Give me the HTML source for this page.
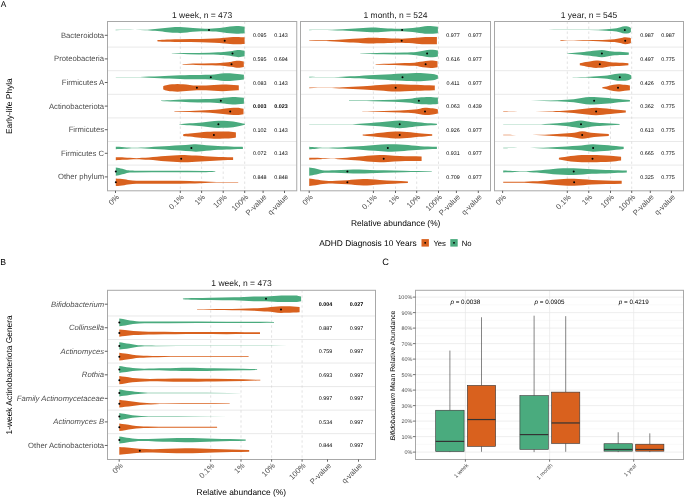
<!DOCTYPE html>
<html><head><meta charset="utf-8"><style>
html,body{margin:0;padding:0;background:#fff;}
body{width:685px;height:497px;overflow:hidden;}
svg{display:block;will-change:transform;text-rendering:geometricPrecision;font-family:"Liberation Sans", sans-serif;}
</style></head><body>
<svg width="685" height="497" viewBox="0 0 685 497">
<rect width="685" height="497" fill="#fff"/>
<text x="0.8" y="7.4" font-size="8.3" fill="#000">A</text>
<text x="202.12" y="18" font-size="8.5" text-anchor="middle" fill="#1a1a1a" >1 week, n = 473</text>
<line x1="107.5" y1="47.1" x2="296.75" y2="47.1" stroke="#e6e6e6" stroke-width="0.9" />
<line x1="107.5" y1="70.7" x2="296.75" y2="70.7" stroke="#e6e6e6" stroke-width="0.9" />
<line x1="107.5" y1="94.3" x2="296.75" y2="94.3" stroke="#e6e6e6" stroke-width="0.9" />
<line x1="107.5" y1="117.9" x2="296.75" y2="117.9" stroke="#e6e6e6" stroke-width="0.9" />
<line x1="107.5" y1="141.5" x2="296.75" y2="141.5" stroke="#e6e6e6" stroke-width="0.9" />
<line x1="107.5" y1="165.1" x2="296.75" y2="165.1" stroke="#e6e6e6" stroke-width="0.9" />
<line x1="180.3" y1="21.5" x2="180.3" y2="190.8" stroke="#cfcfcf" stroke-width="0.6" stroke-dasharray="2.4 2.6"/>
<line x1="201.6" y1="21.5" x2="201.6" y2="190.8" stroke="#cfcfcf" stroke-width="0.6" stroke-dasharray="2.4 2.6"/>
<line x1="223.2" y1="21.5" x2="223.2" y2="190.8" stroke="#cfcfcf" stroke-width="0.6" stroke-dasharray="2.4 2.6"/>
<line x1="244.7" y1="21.5" x2="244.7" y2="190.8" stroke="#cfcfcf" stroke-width="0.6" stroke-dasharray="2.4 2.6"/>
<path d="M115.6 29.73 C118.73 29.76 121.87 29.79 125 29.82 C128.33 29.85 131.67 29.9 135 29.9 C138.33 29.9 141.67 29.84 145 29.75 C146.67 29.71 148.33 29.56 150 29.45 C151.67 29.34 153.33 29.2 155 29.05 C156.67 28.9 158.33 28.73 160 28.55 C161.67 28.37 163.33 28.13 165 27.95 C166.67 27.77 168.33 27.59 170 27.45 C171.67 27.31 173.33 27.17 175 27.1 C176.67 27.03 178.33 26.95 180 26.95 C182.33 26.95 184.67 27.25 187 27.45 C189 27.62 191 27.95 193 28.1 C195.67 28.3 198.33 28.46 201 28.55 C203.67 28.64 206.33 28.75 209 28.75 C211.33 28.75 213.67 28.53 216 28.35 C218.5 28.16 221 27.77 223.5 27.45 C225.67 27.17 227.83 26.75 230 26.55 C232.13 26.35 234.27 26.1 236.4 26.1 C237.93 26.1 239.47 26.24 241 26.35 C242.2 26.44 243.4 26.62 244.6 26.75 L244.6 33.15 C243.4 33.28 242.2 33.46 241 33.55 C239.47 33.66 237.93 33.8 236.4 33.8 C234.27 33.8 232.13 33.55 230 33.35 C227.83 33.15 225.67 32.73 223.5 32.45 C221 32.13 218.5 31.74 216 31.55 C213.67 31.37 211.33 31.15 209 31.15 C206.33 31.15 203.67 31.26 201 31.35 C198.33 31.44 195.67 31.6 193 31.8 C191 31.95 189 32.28 187 32.45 C184.67 32.65 182.33 32.95 180 32.95 C178.33 32.95 176.67 32.87 175 32.8 C173.33 32.73 171.67 32.59 170 32.45 C168.33 32.31 166.67 32.13 165 31.95 C163.33 31.77 161.67 31.53 160 31.35 C158.33 31.17 156.67 31 155 30.85 C153.33 30.7 151.67 30.56 150 30.45 C148.33 30.34 146.67 30.19 145 30.15 C141.67 30.06 138.33 30 135 30 C131.67 30 128.33 30.05 125 30.08 C121.87 30.11 118.73 30.14 115.6 30.17 Z" fill="#4aab7e"/>
<path d="M157.3 40.15 C158.2 40.07 159.1 39.97 160 39.9 C161.33 39.8 162.67 39.71 164 39.65 C166 39.56 168 39.51 170 39.45 C173.33 39.35 176.67 39.24 180 39.2 C187 39.12 194 39.14 201 39.05 C205.33 38.99 209.67 38.77 214 38.55 C217.53 38.37 221.07 38.03 224.6 37.75 C226.4 37.61 228.2 37.4 230 37.3 C232.13 37.19 234.27 37.05 236.4 37.05 C237.93 37.05 239.47 37.1 241 37.15 C242.2 37.19 243.4 37.28 244.6 37.35 L244.6 43.95 C243.4 44.02 242.2 44.11 241 44.15 C239.47 44.2 237.93 44.25 236.4 44.25 C234.27 44.25 232.13 44.11 230 44 C228.2 43.9 226.4 43.69 224.6 43.55 C221.07 43.27 217.53 42.93 214 42.75 C209.67 42.53 205.33 42.31 201 42.25 C194 42.16 187 42.18 180 42.1 C176.67 42.06 173.33 41.95 170 41.85 C168 41.79 166 41.74 164 41.65 C162.67 41.59 161.33 41.5 160 41.4 C159.1 41.33 158.2 41.23 157.3 41.15 Z" fill="#d9611e"/>
<path d="M171.8 53.4 C174.53 53.32 177.27 53.23 180 53.15 C182.67 53.08 185.33 53 188 52.95 C195 52.82 202 52.8 209 52.65 C212 52.59 215 52.48 218 52.35 C219.83 52.27 221.67 52.19 223.5 52.05 C225 51.94 226.5 51.74 228 51.55 C229.43 51.37 230.87 51.18 232.3 50.95 C233.53 50.75 234.77 50.43 236 50.25 C236.83 50.13 237.67 49.95 238.5 49.95 C239.5 49.95 240.5 50.12 241.5 50.25 C242.53 50.39 243.57 50.65 244.6 50.85 L244.6 56.25 C243.57 56.45 242.53 56.71 241.5 56.85 C240.5 56.98 239.5 57.15 238.5 57.15 C237.67 57.15 236.83 56.97 236 56.85 C234.77 56.67 233.53 56.35 232.3 56.15 C230.87 55.92 229.43 55.73 228 55.55 C226.5 55.36 225 55.16 223.5 55.05 C221.67 54.91 219.83 54.83 218 54.75 C215 54.62 212 54.51 209 54.45 C202 54.3 195 54.28 188 54.15 C185.33 54.1 182.67 54.02 180 53.95 C177.27 53.87 174.53 53.78 171.8 53.7 Z" fill="#4aab7e"/>
<path d="M182.6 64.1 C185.07 63.98 187.53 63.85 190 63.75 C192 63.67 194 63.6 196 63.55 C201.33 63.42 206.67 63.39 212 63.25 C214.67 63.18 217.33 63.08 220 62.95 C221.67 62.87 223.33 62.76 225 62.6 C227.17 62.4 229.33 62.02 231.5 61.65 C232.67 61.45 233.83 61.1 235 60.95 C236 60.82 237 60.65 238 60.65 C239 60.65 240 60.82 241 60.95 C241.93 61.07 242.87 61.28 243.8 61.45 L243.8 67.05 C242.87 67.22 241.93 67.43 241 67.55 C240 67.68 239 67.85 238 67.85 C237 67.85 236 67.68 235 67.55 C233.83 67.4 232.67 67.05 231.5 66.85 C229.33 66.48 227.17 66.1 225 65.9 C223.33 65.74 221.67 65.63 220 65.55 C217.33 65.42 214.67 65.32 212 65.25 C206.67 65.11 201.33 65.08 196 64.95 C194 64.9 192 64.83 190 64.75 C187.53 64.65 185.07 64.52 182.6 64.4 Z" fill="#d9611e"/>
<path d="M115.8 76.93 C118.87 76.96 121.93 76.98 125 77.01 C127.33 77.03 129.67 77.09 132 77.09 C134.67 77.09 137.33 77.07 140 77.05 C143 77.02 146 76.68 149 76.55 C152.67 76.39 156.33 76.29 160 76.15 C163.1 76.03 166.2 75.87 169.3 75.75 C172.87 75.61 176.43 75.49 180 75.35 C183.23 75.22 186.47 74.95 189.7 74.95 C193.13 74.95 196.57 74.95 200 74.95 C203.6 74.95 207.2 74.92 210.8 74.85 C213.2 74.81 215.6 74.23 218 73.95 C220.17 73.7 222.33 73.25 224.5 73.25 C226.33 73.25 228.17 73.29 230 73.35 C231.57 73.4 233.13 73.61 234.7 73.75 C236.47 73.91 238.23 74.06 240 74.25 C241.3 74.39 242.6 74.58 243.9 74.75 L243.9 79.55 C242.6 79.72 241.3 79.91 240 80.05 C238.23 80.24 236.47 80.39 234.7 80.55 C233.13 80.69 231.57 80.9 230 80.95 C228.17 81.01 226.33 81.05 224.5 81.05 C222.33 81.05 220.17 80.6 218 80.35 C215.6 80.07 213.2 79.49 210.8 79.45 C207.2 79.38 203.6 79.35 200 79.35 C196.57 79.35 193.13 79.35 189.7 79.35 C186.47 79.35 183.23 79.08 180 78.95 C176.43 78.81 172.87 78.69 169.3 78.55 C166.2 78.43 163.1 78.27 160 78.15 C156.33 78.01 152.67 77.91 149 77.75 C146 77.62 143 77.28 140 77.25 C137.33 77.23 134.67 77.21 132 77.21 C129.67 77.21 127.33 77.27 125 77.29 C121.93 77.32 118.87 77.34 115.8 77.37 Z" fill="#4aab7e"/>
<path d="M163.2 86.25 C163.8 86.02 164.4 85.72 165 85.55 C165.77 85.33 166.53 85.19 167.3 85.05 C168.87 84.77 170.43 84.5 172 84.35 C173.83 84.17 175.67 83.95 177.5 83.95 C179.33 83.95 181.17 84.2 183 84.35 C185.23 84.53 187.47 84.76 189.7 84.95 C192.1 85.16 194.5 85.55 196.9 85.55 C199.93 85.55 202.97 85.48 206 85.4 C208.67 85.33 211.33 85.09 214 84.95 C216.83 84.8 219.67 84.55 222.5 84.55 C225 84.55 227.5 84.73 230 84.85 C232.6 84.98 235.2 85.06 237.8 85.35 C238.13 85.39 238.47 85.48 238.8 85.55 L238.8 90.15 C238.47 90.22 238.13 90.31 237.8 90.35 C235.2 90.64 232.6 90.72 230 90.85 C227.5 90.97 225 91.15 222.5 91.15 C219.67 91.15 216.83 90.9 214 90.75 C211.33 90.61 208.67 90.37 206 90.3 C202.97 90.22 199.93 90.15 196.9 90.15 C194.5 90.15 192.1 90.54 189.7 90.75 C187.47 90.94 185.23 91.17 183 91.35 C181.17 91.5 179.33 91.75 177.5 91.75 C175.67 91.75 173.83 91.53 172 91.35 C170.43 91.2 168.87 90.93 167.3 90.65 C166.53 90.51 165.77 90.37 165 90.15 C164.4 89.98 163.8 89.68 163.2 89.45 Z" fill="#d9611e"/>
<path d="M161.1 100.55 C163.07 100.45 165.03 100.35 167 100.25 C169.13 100.15 171.27 100.04 173.4 99.95 C178.83 99.72 184.27 99.48 189.7 99.35 C195.13 99.22 200.57 99.19 206 99.05 C208.67 98.98 211.33 98.89 214 98.75 C216.27 98.63 218.53 98.37 220.8 98.15 C222.87 97.94 224.93 97.63 227 97.45 C228.9 97.29 230.8 97.05 232.7 97.05 C234.47 97.05 236.23 97.15 238 97.25 C239.97 97.36 241.93 97.65 243.9 97.85 L243.9 103.65 C241.93 103.85 239.97 104.14 238 104.25 C236.23 104.35 234.47 104.45 232.7 104.45 C230.8 104.45 228.9 104.21 227 104.05 C224.93 103.87 222.87 103.56 220.8 103.35 C218.53 103.13 216.27 102.87 214 102.75 C211.33 102.61 208.67 102.52 206 102.45 C200.57 102.31 195.13 102.28 189.7 102.15 C184.27 102.02 178.83 101.78 173.4 101.55 C171.27 101.46 169.13 101.35 167 101.25 C165.03 101.15 163.07 101.05 161.1 100.95 Z" fill="#4aab7e"/>
<path d="M174.4 111.15 C179.5 111.08 184.6 111.05 189.7 110.95 C193.13 110.88 196.57 110.7 200 110.55 C203.4 110.4 206.8 110.26 210.2 110.05 C213.6 109.84 217 109.49 220.4 109.15 C223.67 108.83 226.93 108.2 230.2 108.05 C232.4 107.95 234.6 107.85 236.8 107.85 C238.03 107.85 239.27 108.01 240.5 108.15 C241.5 108.27 242.5 108.55 243.5 108.75 L243.5 114.15 C242.5 114.35 241.5 114.63 240.5 114.75 C239.27 114.89 238.03 115.05 236.8 115.05 C234.6 115.05 232.4 114.95 230.2 114.85 C226.93 114.7 223.67 114.07 220.4 113.75 C217 113.41 213.6 113.06 210.2 112.85 C206.8 112.64 203.4 112.5 200 112.35 C196.57 112.2 193.13 112.02 189.7 111.95 C184.6 111.85 179.5 111.82 174.4 111.75 Z" fill="#d9611e"/>
<path d="M179.1 124.15 C180.73 124.02 182.37 123.87 184 123.75 C185.9 123.61 187.8 123.48 189.7 123.35 C191.8 123.21 193.9 123.09 196 122.95 C198 122.81 200 122.68 202 122.5 C204.67 122.26 207.33 121.83 210 121.55 C212.8 121.25 215.6 120.75 218.4 120.75 C220.27 120.75 222.13 120.8 224 120.85 C226.2 120.91 228.4 121.06 230.6 121.25 C232.4 121.41 234.2 121.75 236 122.05 C237.6 122.32 239.2 122.63 240.8 122.95 C242.17 123.23 243.53 123.55 244.9 123.85 L244.9 124.85 C243.53 125.15 242.17 125.47 240.8 125.75 C239.2 126.07 237.6 126.38 236 126.65 C234.2 126.95 232.4 127.29 230.6 127.45 C228.4 127.64 226.2 127.79 224 127.85 C222.13 127.9 220.27 127.95 218.4 127.95 C215.6 127.95 212.8 127.45 210 127.15 C207.33 126.87 204.67 126.44 202 126.2 C200 126.02 198 125.89 196 125.75 C193.9 125.61 191.8 125.49 189.7 125.35 C187.8 125.22 185.9 125.09 184 124.95 C182.37 124.83 180.73 124.68 179.1 124.55 Z" fill="#4aab7e"/>
<path d="M183.2 134.15 C184.13 134.05 185.07 133.94 186 133.85 C187.23 133.74 188.47 133.67 189.7 133.55 C191.47 133.38 193.23 133.15 195 132.95 C196.67 132.76 198.33 132.55 200 132.4 C202.33 132.18 204.67 132.01 207 131.85 C209.3 131.7 211.6 131.45 213.9 131.45 C215.93 131.45 217.97 131.45 220 131.45 C222.17 131.45 224.33 131.49 226.5 131.55 C228 131.59 229.5 131.72 231 131.85 C232.37 131.97 233.73 132.11 235.1 132.35 C235.37 132.4 235.63 132.48 235.9 132.55 L235.9 137.55 C235.63 137.62 235.37 137.7 235.1 137.75 C233.73 137.99 232.37 138.13 231 138.25 C229.5 138.38 228 138.51 226.5 138.55 C224.33 138.61 222.17 138.65 220 138.65 C217.97 138.65 215.93 138.65 213.9 138.65 C211.6 138.65 209.3 138.4 207 138.25 C204.67 138.09 202.33 137.92 200 137.7 C198.33 137.55 196.67 137.34 195 137.15 C193.23 136.95 191.47 136.72 189.7 136.55 C188.47 136.43 187.23 136.36 186 136.25 C185.07 136.16 184.13 136.05 183.2 135.95 Z" fill="#d9611e"/>
<path d="M115.8 146.65 C116.87 146.7 117.93 146.74 119 146.8 C120.77 146.9 122.53 147.03 124.3 147.15 C125.87 147.26 127.43 147.41 129 147.5 C130.87 147.6 132.73 147.75 134.6 147.75 C136.73 147.75 138.87 147.63 141 147.55 C143.63 147.45 146.27 147.29 148.9 147.15 C152.27 146.97 155.63 146.74 159 146.55 C162.43 146.36 165.87 146.2 169.3 146 C172.87 145.8 176.43 145.58 180 145.35 C183.8 145.1 187.6 144.81 191.4 144.55 C192.9 144.45 194.4 144.25 195.9 144.25 C197.93 144.25 199.97 144.57 202 144.75 C204.73 144.99 207.47 145.28 210.2 145.5 C212.8 145.71 215.4 145.93 218 146.05 C220.83 146.18 223.67 146.24 226.5 146.35 C229 146.44 231.5 146.57 234 146.65 C236.63 146.73 239.27 146.75 241.9 146.85 C242.23 146.86 242.57 146.88 242.9 146.9 L242.9 149 C242.57 149.02 242.23 149.04 241.9 149.05 C239.27 149.15 236.63 149.17 234 149.25 C231.5 149.33 229 149.46 226.5 149.55 C223.67 149.66 220.83 149.72 218 149.85 C215.4 149.97 212.8 150.19 210.2 150.4 C207.47 150.62 204.73 150.91 202 151.15 C199.97 151.33 197.93 151.65 195.9 151.65 C194.4 151.65 192.9 151.45 191.4 151.35 C187.6 151.09 183.8 150.8 180 150.55 C176.43 150.32 172.87 150.1 169.3 149.9 C165.87 149.7 162.43 149.54 159 149.35 C155.63 149.16 152.27 148.93 148.9 148.75 C146.27 148.61 143.63 148.45 141 148.35 C138.87 148.27 136.73 148.15 134.6 148.15 C132.73 148.15 130.87 148.3 129 148.4 C127.43 148.49 125.87 148.64 124.3 148.75 C122.53 148.87 120.77 149 119 149.1 C117.93 149.16 116.87 149.2 115.8 149.25 Z" fill="#4aab7e"/>
<path d="M115.8 157.15 C117.2 157.18 118.6 157.21 120 157.25 C121.43 157.3 122.87 157.37 124.3 157.45 C126.2 157.56 128.1 157.74 130 157.85 C132.2 157.97 134.4 158.15 136.6 158.15 C138.4 158.15 140.2 157.95 142 157.85 C144.3 157.72 146.6 157.61 148.9 157.45 C151.6 157.26 154.3 156.99 157 156.75 C159.73 156.51 162.47 156.22 165.2 156 C167.8 155.79 170.4 155.6 173 155.45 C175.73 155.29 178.47 155.05 181.2 155.05 C183.47 155.05 185.73 155.1 188 155.15 C190.63 155.21 193.27 155.4 195.9 155.55 C198.93 155.72 201.97 155.97 205 156.15 C208.1 156.33 211.2 156.5 214.3 156.65 C217.2 156.79 220.1 156.94 223 157.05 C226.23 157.17 229.47 157.35 232.7 157.35 C232.83 157.35 232.97 157.35 233.1 157.35 L233.1 159.95 C232.97 159.95 232.83 159.95 232.7 159.95 C229.47 159.95 226.23 160.13 223 160.25 C220.1 160.36 217.2 160.51 214.3 160.65 C211.2 160.8 208.1 160.97 205 161.15 C201.97 161.33 198.93 161.58 195.9 161.75 C193.27 161.9 190.63 162.09 188 162.15 C185.73 162.2 183.47 162.25 181.2 162.25 C178.47 162.25 175.73 162.01 173 161.85 C170.4 161.7 167.8 161.51 165.2 161.3 C162.47 161.08 159.73 160.79 157 160.55 C154.3 160.31 151.6 160.04 148.9 159.85 C146.6 159.69 144.3 159.58 142 159.45 C140.2 159.35 138.4 159.15 136.6 159.15 C134.4 159.15 132.2 159.33 130 159.45 C128.1 159.56 126.2 159.74 124.3 159.85 C122.87 159.93 121.43 160 120 160.05 C118.6 160.09 117.2 160.12 115.8 160.15 Z" fill="#d9611e"/>
<path d="M115.8 167.45 C116.87 167.62 117.93 167.74 119 167.95 C120.1 168.16 121.2 168.51 122.3 168.8 C123.37 169.08 124.43 169.38 125.5 169.65 C126.47 169.89 127.43 170.22 128.4 170.35 C129.27 170.47 130.13 170.58 131 170.6 C132.2 170.63 133.4 170.64 134.6 170.65 C146.17 170.72 157.73 170.71 169.3 170.75 C181.57 170.79 193.83 170.79 206.1 170.9 C208.07 170.92 210.03 171.02 212 171.1 C213.1 171.14 214.2 171.2 215.3 171.25 L215.3 171.85 C214.2 171.9 213.1 171.96 212 172 C210.03 172.08 208.07 172.18 206.1 172.2 C193.83 172.31 181.57 172.31 169.3 172.35 C157.73 172.39 146.17 172.38 134.6 172.45 C133.4 172.46 132.2 172.47 131 172.5 C130.13 172.52 129.27 172.63 128.4 172.75 C127.43 172.88 126.47 173.21 125.5 173.45 C124.43 173.72 123.37 174.02 122.3 174.3 C121.2 174.59 120.1 174.94 119 175.15 C117.93 175.36 116.87 175.48 115.8 175.65 Z" fill="#4aab7e"/>
<path d="M115.8 178.45 C117.2 178.58 118.6 178.7 120 178.85 C121.43 179 122.87 179.16 124.3 179.35 C125.53 179.52 126.77 179.79 128 179.95 C129.5 180.15 131 180.37 132.5 180.45 C135 180.58 137.5 180.68 140 180.7 C142.97 180.73 145.93 180.75 148.9 180.75 C155.7 180.75 162.5 180.75 169.3 180.75 C176.1 180.75 182.9 180.88 189.7 181 C193.13 181.06 196.57 181.19 200 181.3 C203.4 181.41 206.8 181.56 210.2 181.65 C214.3 181.76 218.4 181.85 222.5 181.9 C227.73 181.97 232.97 182 238.2 182.05 L238.2 182.45 C232.97 182.5 227.73 182.53 222.5 182.6 C218.4 182.65 214.3 182.74 210.2 182.85 C206.8 182.94 203.4 183.09 200 183.2 C196.57 183.31 193.13 183.44 189.7 183.5 C182.9 183.62 176.1 183.75 169.3 183.75 C162.5 183.75 155.7 183.75 148.9 183.75 C145.93 183.75 142.97 183.77 140 183.8 C137.5 183.82 135 183.92 132.5 184.05 C131 184.13 129.5 184.35 128 184.55 C126.77 184.71 125.53 184.98 124.3 185.15 C122.87 185.34 121.43 185.5 120 185.65 C118.6 185.8 117.2 185.92 115.8 186.05 Z" fill="#d9611e"/>
<circle cx="209" cy="29.95" r="1" fill="#000"/>
<circle cx="224.7" cy="40.65" r="1" fill="#000"/>
<circle cx="232.5" cy="53.55" r="1" fill="#000"/>
<circle cx="231.5" cy="64.25" r="1" fill="#000"/>
<circle cx="210.8" cy="77.15" r="1" fill="#000"/>
<circle cx="196.9" cy="87.85" r="1" fill="#000"/>
<circle cx="220.8" cy="100.75" r="1" fill="#000"/>
<circle cx="230.2" cy="111.45" r="1" fill="#000"/>
<circle cx="218.4" cy="124.35" r="1" fill="#000"/>
<circle cx="213.9" cy="135.05" r="1" fill="#000"/>
<circle cx="191.4" cy="147.95" r="1" fill="#000"/>
<circle cx="181.2" cy="158.65" r="1" fill="#000"/>
<circle cx="115.8" cy="171.55" r="1" fill="#000"/>
<circle cx="115.8" cy="182.25" r="1" fill="#000"/>
<text x="259.7" y="37.3" font-size="5.4" text-anchor="middle" fill="#000" >0.095</text>
<text x="281.1" y="37.3" font-size="5.4" text-anchor="middle" fill="#000" >0.143</text>
<text x="259.7" y="60.9" font-size="5.4" text-anchor="middle" fill="#000" >0.595</text>
<text x="281.1" y="60.9" font-size="5.4" text-anchor="middle" fill="#000" >0.694</text>
<text x="259.7" y="84.5" font-size="5.4" text-anchor="middle" fill="#000" >0.083</text>
<text x="281.1" y="84.5" font-size="5.4" text-anchor="middle" fill="#000" >0.143</text>
<text x="259.7" y="108.1" font-size="5.4" text-anchor="middle" fill="#000" font-weight="bold">0.003</text>
<text x="281.1" y="108.1" font-size="5.4" text-anchor="middle" fill="#000" font-weight="bold">0.023</text>
<text x="259.7" y="131.7" font-size="5.4" text-anchor="middle" fill="#000" >0.102</text>
<text x="281.1" y="131.7" font-size="5.4" text-anchor="middle" fill="#000" >0.143</text>
<text x="259.7" y="155.3" font-size="5.4" text-anchor="middle" fill="#000" >0.072</text>
<text x="281.1" y="155.3" font-size="5.4" text-anchor="middle" fill="#000" >0.143</text>
<text x="259.7" y="178.9" font-size="5.4" text-anchor="middle" fill="#000" >0.848</text>
<text x="281.1" y="178.9" font-size="5.4" text-anchor="middle" fill="#000" >0.848</text>
<rect x="107.5" y="21.5" width="189.25" height="169.3" fill="none" stroke="#a8a8a8" stroke-width="1"/>
<line x1="115.5" y1="190.8" x2="115.5" y2="193" stroke="#3a3a3a" stroke-width="0.8" />
<text transform="translate(115.8 193.8) rotate(-45)" x="0" y="5.3" font-size="7.7" text-anchor="end" fill="#4d4d4d">0%</text>
<line x1="180.3" y1="190.8" x2="180.3" y2="193" stroke="#3a3a3a" stroke-width="0.8" />
<text transform="translate(180.6 193.8) rotate(-45)" x="0" y="5.3" font-size="7.7" text-anchor="end" fill="#4d4d4d">0.1%</text>
<line x1="201.6" y1="190.8" x2="201.6" y2="193" stroke="#3a3a3a" stroke-width="0.8" />
<text transform="translate(201.9 193.8) rotate(-45)" x="0" y="5.3" font-size="7.7" text-anchor="end" fill="#4d4d4d">1%</text>
<line x1="223.2" y1="190.8" x2="223.2" y2="193" stroke="#3a3a3a" stroke-width="0.8" />
<text transform="translate(223.5 193.8) rotate(-45)" x="0" y="5.3" font-size="7.7" text-anchor="end" fill="#4d4d4d">10%</text>
<line x1="244.7" y1="190.8" x2="244.7" y2="193" stroke="#3a3a3a" stroke-width="0.8" />
<text transform="translate(245 193.8) rotate(-45)" x="0" y="5.3" font-size="7.7" text-anchor="end" fill="#4d4d4d">100%</text>
<line x1="263.1" y1="190.8" x2="263.1" y2="193" stroke="#3a3a3a" stroke-width="0.8" />
<text transform="translate(263.4 193.8) rotate(-45)" x="0" y="5.3" font-size="7.7" text-anchor="end" fill="#4d4d4d">P-value</text>
<line x1="284.5" y1="190.8" x2="284.5" y2="193" stroke="#3a3a3a" stroke-width="0.8" />
<text transform="translate(284.8 193.8) rotate(-45)" x="0" y="5.3" font-size="7.7" text-anchor="end" fill="#4d4d4d">q-value</text>
<text x="395.5" y="18" font-size="8.5" text-anchor="middle" fill="#1a1a1a" >1 month, n = 524</text>
<line x1="300.5" y1="47.1" x2="490.5" y2="47.1" stroke="#e6e6e6" stroke-width="0.9" />
<line x1="300.5" y1="70.7" x2="490.5" y2="70.7" stroke="#e6e6e6" stroke-width="0.9" />
<line x1="300.5" y1="94.3" x2="490.5" y2="94.3" stroke="#e6e6e6" stroke-width="0.9" />
<line x1="300.5" y1="117.9" x2="490.5" y2="117.9" stroke="#e6e6e6" stroke-width="0.9" />
<line x1="300.5" y1="141.5" x2="490.5" y2="141.5" stroke="#e6e6e6" stroke-width="0.9" />
<line x1="300.5" y1="165.1" x2="490.5" y2="165.1" stroke="#e6e6e6" stroke-width="0.9" />
<line x1="373.4" y1="21.5" x2="373.4" y2="190.8" stroke="#cfcfcf" stroke-width="0.6" stroke-dasharray="2.4 2.6"/>
<line x1="395.5" y1="21.5" x2="395.5" y2="190.8" stroke="#cfcfcf" stroke-width="0.6" stroke-dasharray="2.4 2.6"/>
<line x1="416.7" y1="21.5" x2="416.7" y2="190.8" stroke="#cfcfcf" stroke-width="0.6" stroke-dasharray="2.4 2.6"/>
<line x1="438.5" y1="21.5" x2="438.5" y2="190.8" stroke="#cfcfcf" stroke-width="0.6" stroke-dasharray="2.4 2.6"/>
<path d="M309.2 29.7 C311.47 29.73 313.73 29.77 316 29.8 C318.13 29.83 320.27 29.87 322.4 29.87 C325.6 29.87 328.8 29.77 332 29.7 C335.63 29.62 339.27 29.51 342.9 29.35 C345.6 29.23 348.3 29.02 351 28.85 C353.73 28.68 356.47 28.52 359.2 28.35 C361.8 28.19 364.4 27.95 367 27.85 C369.87 27.73 372.73 27.6 375.6 27.6 C377.4 27.6 379.2 27.82 381 27.95 C383.27 28.11 385.53 28.42 387.8 28.5 C390.2 28.58 392.6 28.65 395 28.65 C397.37 28.65 399.73 28.65 402.1 28.65 C404.4 28.65 406.7 28.42 409 28.25 C411.47 28.07 413.93 27.8 416.4 27.5 C418.27 27.27 420.13 26.88 422 26.65 C423.9 26.41 425.8 26.05 427.7 26.05 C429.47 26.05 431.23 26.16 433 26.25 C434.63 26.33 436.27 26.52 437.9 26.65 L437.9 33.25 C436.27 33.38 434.63 33.57 433 33.65 C431.23 33.74 429.47 33.85 427.7 33.85 C425.8 33.85 423.9 33.49 422 33.25 C420.13 33.02 418.27 32.63 416.4 32.4 C413.93 32.1 411.47 31.83 409 31.65 C406.7 31.48 404.4 31.25 402.1 31.25 C399.73 31.25 397.37 31.25 395 31.25 C392.6 31.25 390.2 31.32 387.8 31.4 C385.53 31.48 383.27 31.79 381 31.95 C379.2 32.08 377.4 32.3 375.6 32.3 C372.73 32.3 369.87 32.17 367 32.05 C364.4 31.95 361.8 31.71 359.2 31.55 C356.47 31.38 353.73 31.22 351 31.05 C348.3 30.88 345.6 30.67 342.9 30.55 C339.27 30.39 335.63 30.28 332 30.2 C328.8 30.13 325.6 30.03 322.4 30.03 C320.27 30.03 318.13 30.07 316 30.1 C313.73 30.13 311.47 30.17 309.2 30.2 Z" fill="#4aab7e"/>
<path d="M309.2 40.4 C313.6 40.35 318 40.33 322.4 40.25 C324.93 40.21 327.47 40.09 330 40 C332.93 39.89 335.87 39.8 338.8 39.65 C341.2 39.53 343.6 39.31 346 39.15 C348.37 38.99 350.73 38.84 353.1 38.7 C356.4 38.5 359.7 38.29 363 38.15 C366.5 38 370 37.8 373.5 37.8 C375.67 37.8 377.83 37.89 380 37.95 C382.6 38.02 385.2 38.11 387.8 38.2 C390.2 38.29 392.6 38.43 395 38.5 C397.23 38.56 399.47 38.65 401.7 38.65 C404.13 38.65 406.57 38.41 409 38.25 C411.47 38.09 413.93 37.86 416.4 37.65 C418.27 37.49 420.13 37.23 422 37.15 C424.23 37.05 426.47 36.95 428.7 36.95 C431.43 36.95 434.17 37.02 436.9 37.05 L436.9 44.25 C434.17 44.28 431.43 44.35 428.7 44.35 C426.47 44.35 424.23 44.25 422 44.15 C420.13 44.07 418.27 43.81 416.4 43.65 C413.93 43.44 411.47 43.21 409 43.05 C406.57 42.89 404.13 42.65 401.7 42.65 C399.47 42.65 397.23 42.74 395 42.8 C392.6 42.87 390.2 43.01 387.8 43.1 C385.2 43.19 382.6 43.28 380 43.35 C377.83 43.41 375.67 43.5 373.5 43.5 C370 43.5 366.5 43.3 363 43.15 C359.7 43.01 356.4 42.8 353.1 42.6 C350.73 42.46 348.37 42.31 346 42.15 C343.6 41.99 341.2 41.77 338.8 41.65 C335.87 41.5 332.93 41.41 330 41.3 C327.47 41.21 324.93 41.09 322.4 41.05 C318 40.97 313.6 40.95 309.2 40.9 Z" fill="#d9611e"/>
<path d="M360.2 53.4 C363.47 53.32 366.73 53.23 370 53.15 C374.57 53.04 379.13 52.93 383.7 52.85 C390.53 52.73 397.37 52.7 404.2 52.55 C406.47 52.5 408.73 52.41 411 52.3 C412.8 52.21 414.6 52.12 416.4 51.95 C418.27 51.78 420.13 51.38 422 51.05 C423.7 50.75 425.4 50.19 427.1 50.05 C429 49.89 430.9 49.75 432.8 49.75 C434.5 49.75 436.2 50.28 437.9 50.55 L437.9 56.55 C436.2 56.82 434.5 57.35 432.8 57.35 C430.9 57.35 429 57.21 427.1 57.05 C425.4 56.91 423.7 56.35 422 56.05 C420.13 55.72 418.27 55.32 416.4 55.15 C414.6 54.98 412.8 54.89 411 54.8 C408.73 54.69 406.47 54.6 404.2 54.55 C397.37 54.4 390.53 54.37 383.7 54.25 C379.13 54.17 374.57 54.06 370 53.95 C366.73 53.87 363.47 53.78 360.2 53.7 Z" fill="#4aab7e"/>
<path d="M375.6 64.05 C378.4 63.95 381.2 63.84 384 63.75 C387.33 63.64 390.67 63.55 394 63.45 C397.67 63.34 401.33 63.24 405 63.1 C408.13 62.98 411.27 62.88 414.4 62.65 C416.27 62.51 418.13 62.13 420 61.85 C421.87 61.57 423.73 61.17 425.6 60.95 C427.33 60.74 429.07 60.45 430.8 60.45 C432.03 60.45 433.27 60.61 434.5 60.75 C435.5 60.87 436.5 61.15 437.5 61.35 L437.5 67.15 C436.5 67.35 435.5 67.63 434.5 67.75 C433.27 67.89 432.03 68.05 430.8 68.05 C429.07 68.05 427.33 67.76 425.6 67.55 C423.73 67.33 421.87 66.93 420 66.65 C418.13 66.37 416.27 65.99 414.4 65.85 C411.27 65.62 408.13 65.52 405 65.4 C401.33 65.26 397.67 65.16 394 65.05 C390.67 64.95 387.33 64.86 384 64.75 C381.2 64.66 378.4 64.55 375.6 64.45 Z" fill="#d9611e"/>
<path d="M309.2 76.85 C311.47 76.88 313.73 76.91 316 76.95 C318.67 76.99 321.33 77.09 324 77.09 C327.33 77.09 330.67 77.05 334 77 C336.97 76.96 339.93 76.77 342.9 76.65 C345.27 76.55 347.63 76.45 350 76.35 C353.07 76.22 356.13 76.11 359.2 75.95 C362.47 75.78 365.73 75.53 369 75.35 C372.57 75.15 376.13 74.99 379.7 74.8 C383.47 74.6 387.23 74.36 391 74.15 C394.83 73.94 398.67 73.71 402.5 73.55 C405.33 73.43 408.17 73.33 411 73.25 C414.17 73.17 417.33 73.05 420.5 73.05 C422.67 73.05 424.83 73.28 427 73.45 C428.93 73.6 430.87 73.76 432.8 74.05 C433.87 74.21 434.93 74.53 436 74.85 C436.63 75.04 437.27 75.32 437.9 75.55 L437.9 78.75 C437.27 78.98 436.63 79.26 436 79.45 C434.93 79.77 433.87 80.09 432.8 80.25 C430.87 80.54 428.93 80.7 427 80.85 C424.83 81.02 422.67 81.25 420.5 81.25 C417.33 81.25 414.17 81.13 411 81.05 C408.17 80.97 405.33 80.87 402.5 80.75 C398.67 80.59 394.83 80.36 391 80.15 C387.23 79.94 383.47 79.7 379.7 79.5 C376.13 79.31 372.57 79.15 369 78.95 C365.73 78.77 362.47 78.52 359.2 78.35 C356.13 78.19 353.07 78.08 350 77.95 C347.63 77.85 345.27 77.75 342.9 77.65 C339.93 77.53 336.97 77.34 334 77.3 C330.67 77.25 327.33 77.21 324 77.21 C321.33 77.21 318.67 77.31 316 77.35 C313.73 77.39 311.47 77.42 309.2 77.45 Z" fill="#4aab7e"/>
<path d="M309.2 87.55 C312.13 87.58 315.07 87.62 318 87.65 C321.33 87.69 324.67 87.75 328 87.75 C330.67 87.75 333.33 87.64 336 87.55 C338.3 87.48 340.6 87.36 342.9 87.25 C346.27 87.09 349.63 86.92 353 86.75 C356.43 86.58 359.87 86.46 363.3 86.25 C365.87 86.09 368.43 85.83 371 85.65 C373.9 85.45 376.8 85.29 379.7 85.1 C382.47 84.92 385.23 84.69 388 84.55 C390.53 84.43 393.07 84.25 395.6 84.25 C398.73 84.25 401.87 84.37 405 84.45 C408.8 84.55 412.6 84.72 416.4 84.85 C419.27 84.95 422.13 85.06 425 85.15 C427.93 85.24 430.87 85.23 433.8 85.4 C434.13 85.42 434.47 85.5 434.8 85.55 L434.8 90.15 C434.47 90.2 434.13 90.28 433.8 90.3 C430.87 90.47 427.93 90.46 425 90.55 C422.13 90.64 419.27 90.75 416.4 90.85 C412.6 90.98 408.8 91.15 405 91.25 C401.87 91.33 398.73 91.45 395.6 91.45 C393.07 91.45 390.53 91.27 388 91.15 C385.23 91.01 382.47 90.78 379.7 90.6 C376.8 90.41 373.9 90.25 371 90.05 C368.43 89.87 365.87 89.61 363.3 89.45 C359.87 89.24 356.43 89.12 353 88.95 C349.63 88.78 346.27 88.61 342.9 88.45 C340.6 88.34 338.3 88.22 336 88.15 C333.33 88.06 330.67 87.95 328 87.95 C324.67 87.95 321.33 88.01 318 88.05 C315.07 88.08 312.13 88.12 309.2 88.15 Z" fill="#d9611e"/>
<path d="M349 100.6 C352.67 100.53 356.33 100.47 360 100.4 C364.5 100.32 369 100.24 373.5 100.15 C380.33 100.01 387.17 99.87 394 99.65 C397 99.55 400 99.41 403 99.25 C405.43 99.12 407.87 99 410.3 98.75 C411.7 98.61 413.1 98.26 414.5 98.05 C415.97 97.83 417.43 97.57 418.9 97.45 C420.6 97.31 422.3 97.2 424 97.15 C425.57 97.1 427.13 97.05 428.7 97.05 C430.13 97.05 431.57 97.17 433 97.25 C434.63 97.34 436.27 97.45 437.9 97.55 L437.9 103.95 C436.27 104.05 434.63 104.16 433 104.25 C431.57 104.33 430.13 104.45 428.7 104.45 C427.13 104.45 425.57 104.4 424 104.35 C422.3 104.3 420.6 104.19 418.9 104.05 C417.43 103.93 415.97 103.67 414.5 103.45 C413.1 103.24 411.7 102.89 410.3 102.75 C407.87 102.5 405.43 102.38 403 102.25 C400 102.09 397 101.95 394 101.85 C387.17 101.63 380.33 101.49 373.5 101.35 C369 101.26 364.5 101.18 360 101.1 C356.33 101.03 352.67 100.97 349 100.9 Z" fill="#4aab7e"/>
<path d="M362.3 111.3 C365.53 111.25 368.77 111.2 372 111.15 C375.9 111.09 379.8 111.03 383.7 110.95 C389.17 110.83 394.63 110.66 400.1 110.45 C402.73 110.35 405.37 110.21 408 110.05 C410.13 109.92 412.27 109.81 414.4 109.6 C416.27 109.41 418.13 108.96 420 108.65 C421.67 108.38 423.33 107.85 425 107.85 C426.33 107.85 427.67 107.9 429 107.95 C430.27 108 431.53 108.18 432.8 108.35 C433.7 108.47 434.6 108.66 435.5 108.85 C436.3 109.02 437.1 109.25 437.9 109.45 L437.9 113.45 C437.1 113.65 436.3 113.88 435.5 114.05 C434.6 114.24 433.7 114.43 432.8 114.55 C431.53 114.72 430.27 114.9 429 114.95 C427.67 115 426.33 115.05 425 115.05 C423.33 115.05 421.67 114.52 420 114.25 C418.13 113.94 416.27 113.49 414.4 113.3 C412.27 113.09 410.13 112.98 408 112.85 C405.37 112.69 402.73 112.55 400.1 112.45 C394.63 112.24 389.17 112.07 383.7 111.95 C379.8 111.87 375.9 111.81 372 111.75 C368.77 111.7 365.53 111.65 362.3 111.6 Z" fill="#d9611e"/>
<path d="M309.2 124.15 C311.47 124.18 313.73 124.21 316 124.23 C319 124.26 322 124.32 325 124.32 C330 124.32 335 124.31 340 124.3 C343 124.29 346 124.25 349 124.2 C351.33 124.16 353.67 124.01 356 123.9 C358.43 123.79 360.87 123.68 363.3 123.55 C365.87 123.41 368.43 123.23 371 123.05 C373.9 122.84 376.8 122.6 379.7 122.35 C383.13 122.05 386.57 121.66 390 121.35 C393.23 121.06 396.47 120.55 399.7 120.55 C401.8 120.55 403.9 120.86 406 121.05 C408.13 121.24 410.27 121.47 412.4 121.7 C414.27 121.9 416.13 122.16 418 122.35 C420.2 122.58 422.4 122.79 424.6 122.95 C426.73 123.11 428.87 123.23 431 123.35 C432.97 123.46 434.93 123.55 436.9 123.65 L436.9 125.05 C434.93 125.15 432.97 125.24 431 125.35 C428.87 125.47 426.73 125.59 424.6 125.75 C422.4 125.91 420.2 126.12 418 126.35 C416.13 126.54 414.27 126.8 412.4 127 C410.27 127.23 408.13 127.46 406 127.65 C403.9 127.84 401.8 128.15 399.7 128.15 C396.47 128.15 393.23 127.64 390 127.35 C386.57 127.04 383.13 126.65 379.7 126.35 C376.8 126.1 373.9 125.86 371 125.65 C368.43 125.47 365.87 125.29 363.3 125.15 C360.87 125.02 358.43 124.91 356 124.8 C353.67 124.69 351.33 124.54 349 124.5 C346 124.45 343 124.41 340 124.4 C335 124.39 330 124.38 325 124.38 C322 124.38 319 124.44 316 124.47 C313.73 124.49 311.47 124.52 309.2 124.55 Z" fill="#4aab7e"/>
<path d="M362.7 134.55 C364.13 134.42 365.57 134.27 367 134.15 C369.17 133.97 371.33 133.86 373.5 133.65 C375 133.5 376.5 133.22 378 133.05 C379.9 132.84 381.8 132.68 383.7 132.5 C386.13 132.27 388.57 131.97 391 131.85 C393.9 131.7 396.8 131.55 399.7 131.55 C402.13 131.55 404.57 131.85 407 132.05 C409.47 132.25 411.93 132.55 414.4 132.8 C415.93 132.95 417.47 133.12 419 133.25 C420.87 133.4 422.73 133.51 424.6 133.65 C427.13 133.84 429.67 134.05 432.2 134.25 L432.2 135.85 C429.67 136.05 427.13 136.26 424.6 136.45 C422.73 136.59 420.87 136.7 419 136.85 C417.47 136.98 415.93 137.15 414.4 137.3 C411.93 137.55 409.47 137.85 407 138.05 C404.57 138.25 402.13 138.55 399.7 138.55 C396.8 138.55 393.9 138.4 391 138.25 C388.57 138.13 386.13 137.83 383.7 137.6 C381.8 137.42 379.9 137.26 378 137.05 C376.5 136.88 375 136.6 373.5 136.45 C371.33 136.24 369.17 136.13 367 135.95 C365.57 135.83 364.13 135.68 362.7 135.55 Z" fill="#d9611e"/>
<path d="M309.2 146.65 C310.3 146.75 311.4 146.86 312.5 146.95 C313.77 147.06 315.03 147.15 316.3 147.25 C317.53 147.35 318.77 147.48 320 147.55 C321.5 147.64 323 147.75 324.5 147.75 C327.33 147.75 330.17 147.59 333 147.5 C336.3 147.39 339.6 147.3 342.9 147.15 C346.27 147 349.63 146.75 353 146.55 C356.43 146.35 359.87 146.18 363.3 145.95 C367.2 145.69 371.1 145.34 375 145.05 C379.27 144.74 383.53 144.15 387.8 144.15 C390.53 144.15 393.27 144.25 396 144.35 C398.73 144.45 401.47 144.65 404.2 144.85 C406.8 145.04 409.4 145.34 412 145.55 C414.83 145.78 417.67 146.02 420.5 146.2 C423 146.36 425.5 146.51 428 146.6 C430.97 146.71 433.93 146.77 436.9 146.85 L436.9 149.05 C433.93 149.13 430.97 149.19 428 149.3 C425.5 149.39 423 149.54 420.5 149.7 C417.67 149.88 414.83 150.12 412 150.35 C409.4 150.56 406.8 150.86 404.2 151.05 C401.47 151.25 398.73 151.45 396 151.55 C393.27 151.65 390.53 151.75 387.8 151.75 C383.53 151.75 379.27 151.16 375 150.85 C371.1 150.56 367.2 150.21 363.3 149.95 C359.87 149.72 356.43 149.55 353 149.35 C349.63 149.15 346.27 148.9 342.9 148.75 C339.6 148.6 336.3 148.51 333 148.4 C330.17 148.31 327.33 148.15 324.5 148.15 C323 148.15 321.5 148.26 320 148.35 C318.77 148.42 317.53 148.55 316.3 148.65 C315.03 148.75 313.77 148.84 312.5 148.95 C311.4 149.04 310.3 149.15 309.2 149.25 Z" fill="#4aab7e"/>
<path d="M309.2 157.65 C311.13 157.72 313.07 157.78 315 157.85 C316.8 157.91 318.6 157.97 320.4 158.05 C321.93 158.12 323.47 158.24 325 158.3 C326.87 158.37 328.73 158.45 330.6 158.45 C333.07 158.45 335.53 158.27 338 158.15 C341 158.01 344 157.85 347 157.65 C349.67 157.47 352.33 157.17 355 156.95 C357.77 156.72 360.53 156.54 363.3 156.3 C365.87 156.08 368.43 155.74 371 155.55 C373.9 155.34 376.8 155.05 379.7 155.05 C382.47 155.05 385.23 155.23 388 155.35 C392.03 155.53 396.07 155.96 400.1 156.1 C403.4 156.22 406.7 156.33 410 156.35 C413.87 156.38 417.73 156.38 421.6 156.4 L421.6 160.9 C417.73 160.92 413.87 160.92 410 160.95 C406.7 160.97 403.4 161.08 400.1 161.2 C396.07 161.34 392.03 161.77 388 161.95 C385.23 162.07 382.47 162.25 379.7 162.25 C376.8 162.25 373.9 161.96 371 161.75 C368.43 161.56 365.87 161.22 363.3 161 C360.53 160.76 357.77 160.58 355 160.35 C352.33 160.13 349.67 159.83 347 159.65 C344 159.45 341 159.29 338 159.15 C335.53 159.03 333.07 158.85 330.6 158.85 C328.73 158.85 326.87 158.93 325 159 C323.47 159.06 321.93 159.18 320.4 159.25 C318.6 159.33 316.8 159.39 315 159.45 C313.07 159.52 311.13 159.58 309.2 159.65 Z" fill="#d9611e"/>
<path d="M309.2 167.45 C310.3 167.62 311.4 167.77 312.5 167.95 C313.77 168.16 315.03 168.37 316.3 168.65 C317.53 168.92 318.77 169.38 320 169.65 C321.5 169.97 323 170.45 324.5 170.45 C326 170.45 327.5 170.45 329 170.45 C330.9 170.45 332.8 170.32 334.7 170.25 C338.93 170.1 343.17 169.9 347.4 169.8 C351.33 169.71 355.27 169.6 359.2 169.6 C362.8 169.6 366.4 169.84 370 169.95 C374.57 170.09 379.13 170.23 383.7 170.35 C390.53 170.53 397.37 170.71 404.2 170.85 C408.8 170.94 413.4 171.04 418 171.1 C422.6 171.16 427.2 171.2 431.8 171.25 L431.8 171.85 C427.2 171.9 422.6 171.94 418 172 C413.4 172.06 408.8 172.16 404.2 172.25 C397.37 172.39 390.53 172.57 383.7 172.75 C379.13 172.87 374.57 173.01 370 173.15 C366.4 173.26 362.8 173.5 359.2 173.5 C355.27 173.5 351.33 173.39 347.4 173.3 C343.17 173.2 338.93 173 334.7 172.85 C332.8 172.78 330.9 172.65 329 172.65 C327.5 172.65 326 172.65 324.5 172.65 C323 172.65 321.5 173.13 320 173.45 C318.77 173.72 317.53 174.18 316.3 174.45 C315.03 174.73 313.77 174.94 312.5 175.15 C311.4 175.33 310.3 175.48 309.2 175.65 Z" fill="#4aab7e"/>
<path d="M309.2 178.45 C310.47 178.62 311.73 178.77 313 178.95 C314.77 179.2 316.53 179.52 318.3 179.8 C319.87 180.05 321.43 180.37 323 180.55 C324.87 180.77 326.73 181.05 328.6 181.05 C331.07 181.05 333.53 180.94 336 180.85 C339.8 180.71 343.6 180.46 347.4 180.2 C349.93 180.02 352.47 179.73 355 179.55 C357.77 179.35 360.53 179.05 363.3 179.05 C365.87 179.05 368.43 179.22 371 179.35 C373.9 179.5 376.8 179.82 379.7 180 C384.47 180.3 389.23 180.51 394 180.75 C398.63 180.99 403.27 181.22 407.9 181.45 L407.9 183.05 C403.27 183.28 398.63 183.51 394 183.75 C389.23 183.99 384.47 184.2 379.7 184.5 C376.8 184.68 373.9 185 371 185.15 C368.43 185.28 365.87 185.45 363.3 185.45 C360.53 185.45 357.77 185.15 355 184.95 C352.47 184.77 349.93 184.48 347.4 184.3 C343.6 184.04 339.8 183.79 336 183.65 C333.53 183.56 331.07 183.45 328.6 183.45 C326.73 183.45 324.87 183.73 323 183.95 C321.43 184.13 319.87 184.45 318.3 184.7 C316.53 184.98 314.77 185.3 313 185.55 C311.73 185.73 310.47 185.88 309.2 186.05 Z" fill="#d9611e"/>
<circle cx="402.1" cy="29.95" r="1" fill="#000"/>
<circle cx="401.7" cy="40.65" r="1" fill="#000"/>
<circle cx="427.1" cy="53.55" r="1" fill="#000"/>
<circle cx="425.6" cy="64.25" r="1" fill="#000"/>
<circle cx="402.5" cy="77.15" r="1" fill="#000"/>
<circle cx="395.6" cy="87.85" r="1" fill="#000"/>
<circle cx="418.9" cy="100.75" r="1" fill="#000"/>
<circle cx="425" cy="111.45" r="1" fill="#000"/>
<circle cx="399.7" cy="124.35" r="1" fill="#000"/>
<circle cx="399.7" cy="135.05" r="1" fill="#000"/>
<circle cx="387.8" cy="147.95" r="1" fill="#000"/>
<circle cx="383.7" cy="158.65" r="1" fill="#000"/>
<circle cx="347.4" cy="171.55" r="1" fill="#000"/>
<circle cx="347.4" cy="182.25" r="1" fill="#000"/>
<text x="453" y="37.3" font-size="5.4" text-anchor="middle" fill="#000" >0.977</text>
<text x="474.9" y="37.3" font-size="5.4" text-anchor="middle" fill="#000" >0.977</text>
<text x="453" y="60.9" font-size="5.4" text-anchor="middle" fill="#000" >0.616</text>
<text x="474.9" y="60.9" font-size="5.4" text-anchor="middle" fill="#000" >0.977</text>
<text x="453" y="84.5" font-size="5.4" text-anchor="middle" fill="#000" >0.411</text>
<text x="474.9" y="84.5" font-size="5.4" text-anchor="middle" fill="#000" >0.977</text>
<text x="453" y="108.1" font-size="5.4" text-anchor="middle" fill="#000" >0.063</text>
<text x="474.9" y="108.1" font-size="5.4" text-anchor="middle" fill="#000" >0.439</text>
<text x="453" y="131.7" font-size="5.4" text-anchor="middle" fill="#000" >0.926</text>
<text x="474.9" y="131.7" font-size="5.4" text-anchor="middle" fill="#000" >0.977</text>
<text x="453" y="155.3" font-size="5.4" text-anchor="middle" fill="#000" >0.931</text>
<text x="474.9" y="155.3" font-size="5.4" text-anchor="middle" fill="#000" >0.977</text>
<text x="453" y="178.9" font-size="5.4" text-anchor="middle" fill="#000" >0.709</text>
<text x="474.9" y="178.9" font-size="5.4" text-anchor="middle" fill="#000" >0.977</text>
<rect x="300.5" y="21.5" width="190" height="169.3" fill="none" stroke="#a8a8a8" stroke-width="1"/>
<line x1="309.2" y1="190.8" x2="309.2" y2="193" stroke="#3a3a3a" stroke-width="0.8" />
<text transform="translate(309.5 193.8) rotate(-45)" x="0" y="5.3" font-size="7.7" text-anchor="end" fill="#4d4d4d">0%</text>
<line x1="373.4" y1="190.8" x2="373.4" y2="193" stroke="#3a3a3a" stroke-width="0.8" />
<text transform="translate(373.7 193.8) rotate(-45)" x="0" y="5.3" font-size="7.7" text-anchor="end" fill="#4d4d4d">0.1%</text>
<line x1="395.5" y1="190.8" x2="395.5" y2="193" stroke="#3a3a3a" stroke-width="0.8" />
<text transform="translate(395.8 193.8) rotate(-45)" x="0" y="5.3" font-size="7.7" text-anchor="end" fill="#4d4d4d">1%</text>
<line x1="416.7" y1="190.8" x2="416.7" y2="193" stroke="#3a3a3a" stroke-width="0.8" />
<text transform="translate(417 193.8) rotate(-45)" x="0" y="5.3" font-size="7.7" text-anchor="end" fill="#4d4d4d">10%</text>
<line x1="438.5" y1="190.8" x2="438.5" y2="193" stroke="#3a3a3a" stroke-width="0.8" />
<text transform="translate(438.8 193.8) rotate(-45)" x="0" y="5.3" font-size="7.7" text-anchor="end" fill="#4d4d4d">100%</text>
<line x1="456.4" y1="190.8" x2="456.4" y2="193" stroke="#3a3a3a" stroke-width="0.8" />
<text transform="translate(456.7 193.8) rotate(-45)" x="0" y="5.3" font-size="7.7" text-anchor="end" fill="#4d4d4d">P-value</text>
<line x1="478.3" y1="190.8" x2="478.3" y2="193" stroke="#3a3a3a" stroke-width="0.8" />
<text transform="translate(478.6 193.8) rotate(-45)" x="0" y="5.3" font-size="7.7" text-anchor="end" fill="#4d4d4d">q-value</text>
<text x="589" y="18" font-size="8.5" text-anchor="middle" fill="#1a1a1a" >1 year, n = 545</text>
<line x1="494.5" y1="47.1" x2="683.5" y2="47.1" stroke="#e6e6e6" stroke-width="0.9" />
<line x1="494.5" y1="70.7" x2="683.5" y2="70.7" stroke="#e6e6e6" stroke-width="0.9" />
<line x1="494.5" y1="94.3" x2="683.5" y2="94.3" stroke="#e6e6e6" stroke-width="0.9" />
<line x1="494.5" y1="117.9" x2="683.5" y2="117.9" stroke="#e6e6e6" stroke-width="0.9" />
<line x1="494.5" y1="141.5" x2="683.5" y2="141.5" stroke="#e6e6e6" stroke-width="0.9" />
<line x1="494.5" y1="165.1" x2="683.5" y2="165.1" stroke="#e6e6e6" stroke-width="0.9" />
<line x1="567.3" y1="21.5" x2="567.3" y2="190.8" stroke="#cfcfcf" stroke-width="0.6" stroke-dasharray="2.4 2.6"/>
<line x1="588.75" y1="21.5" x2="588.75" y2="190.8" stroke="#cfcfcf" stroke-width="0.6" stroke-dasharray="2.4 2.6"/>
<line x1="610.5" y1="21.5" x2="610.5" y2="190.8" stroke="#cfcfcf" stroke-width="0.6" stroke-dasharray="2.4 2.6"/>
<line x1="631.7" y1="21.5" x2="631.7" y2="190.8" stroke="#cfcfcf" stroke-width="0.6" stroke-dasharray="2.4 2.6"/>
<path d="M538 29.89 C541.33 29.9 544.67 29.92 548 29.92 C551.8 29.92 555.6 29.88 559.4 29.87 C566.27 29.84 573.13 29.83 580 29.8 C586.07 29.77 592.13 29.75 598.2 29.65 C600.93 29.61 603.67 29.32 606.4 29.15 C608.27 29.03 610.13 28.94 612 28.8 C613.53 28.68 615.07 28.57 616.6 28.35 C617.9 28.16 619.2 27.67 620.5 27.35 C621.93 27 623.37 26.35 624.8 26.35 C626.13 26.35 627.47 26.51 628.8 26.75 C629.5 26.88 630.2 27.55 630.9 27.95 L630.9 31.95 C630.2 32.35 629.5 33.02 628.8 33.15 C627.47 33.39 626.13 33.55 624.8 33.55 C623.37 33.55 621.93 32.9 620.5 32.55 C619.2 32.23 617.9 31.74 616.6 31.55 C615.07 31.33 613.53 31.22 612 31.1 C610.13 30.96 608.27 30.87 606.4 30.75 C603.67 30.58 600.93 30.29 598.2 30.25 C592.13 30.15 586.07 30.13 580 30.1 C573.13 30.07 566.27 30.06 559.4 30.03 C555.6 30.02 551.8 29.98 548 29.98 C544.67 29.98 541.33 30 538 30.01 Z" fill="#4aab7e"/>
<path d="M560.4 40.35 C561.77 40.37 563.13 40.38 564.5 40.4 C566.33 40.43 568.17 40.57 570 40.57 C572.57 40.57 575.13 40.45 577.7 40.4 C581.13 40.34 584.57 40.31 588 40.25 C591.4 40.19 594.8 40.14 598.2 40.05 C601.13 39.97 604.07 39.79 607 39.65 C609.5 39.53 612 39.46 614.5 39.25 C616.33 39.09 618.17 38.61 620 38.25 C621.73 37.91 623.47 37.15 625.2 37.15 C626.77 37.15 628.33 37.37 629.9 37.75 C630.23 37.83 630.57 38.15 630.9 38.35 L630.9 42.95 C630.57 43.15 630.23 43.47 629.9 43.55 C628.33 43.93 626.77 44.15 625.2 44.15 C623.47 44.15 621.73 43.39 620 43.05 C618.17 42.69 616.33 42.21 614.5 42.05 C612 41.84 609.5 41.77 607 41.65 C604.07 41.51 601.13 41.33 598.2 41.25 C594.8 41.16 591.4 41.11 588 41.05 C584.57 40.99 581.13 40.96 577.7 40.9 C575.13 40.85 572.57 40.73 570 40.73 C568.17 40.73 566.33 40.87 564.5 40.9 C563.13 40.92 561.77 40.93 560.4 40.95 Z" fill="#d9611e"/>
<path d="M567.1 53.4 C568.73 53.27 570.37 53.13 572 53 C573.9 52.85 575.8 52.71 577.7 52.55 C579.8 52.37 581.9 52.16 584 51.95 C586 51.75 588 51.53 590 51.3 C592 51.07 594 50.77 596 50.55 C597.97 50.33 599.93 49.95 601.9 49.95 C603.6 49.95 605.3 50.39 607 50.65 C608.83 50.93 610.67 51.45 612.5 51.6 C614 51.72 615.5 51.78 617 51.85 C618.9 51.93 620.8 51.96 622.7 52.05 C624.73 52.14 626.77 52.32 628.8 52.45 L628.8 54.65 C626.77 54.78 624.73 54.96 622.7 55.05 C620.8 55.14 618.9 55.17 617 55.25 C615.5 55.32 614 55.38 612.5 55.5 C610.67 55.65 608.83 56.17 607 56.45 C605.3 56.71 603.6 57.15 601.9 57.15 C599.93 57.15 597.97 56.77 596 56.55 C594 56.33 592 56.03 590 55.8 C588 55.57 586 55.35 584 55.15 C581.9 54.94 579.8 54.73 577.7 54.55 C575.8 54.39 573.9 54.25 572 54.1 C570.37 53.97 568.73 53.83 567.1 53.7 Z" fill="#4aab7e"/>
<path d="M579.8 63.35 C580.7 63.15 581.6 62.94 582.5 62.75 C583.63 62.52 584.77 62.31 585.9 62.1 C587.6 61.78 589.3 61.4 591 61.15 C592.7 60.9 594.4 60.55 596.1 60.55 C597.4 60.55 598.7 60.6 600 60.65 C601.67 60.72 603.33 61.1 605 61.35 C606.83 61.63 608.67 62.1 610.5 62.25 C612.33 62.4 614.17 62.46 616 62.55 C618.23 62.66 620.47 62.73 622.7 62.85 C624.6 62.95 626.5 63.12 628.4 63.25 L628.4 65.25 C626.5 65.38 624.6 65.55 622.7 65.65 C620.47 65.77 618.23 65.84 616 65.95 C614.17 66.04 612.33 66.1 610.5 66.25 C608.67 66.4 606.83 66.87 605 67.15 C603.33 67.4 601.67 67.78 600 67.85 C598.7 67.9 597.4 67.95 596.1 67.95 C594.4 67.95 592.7 67.6 591 67.35 C589.3 67.1 587.6 66.72 585.9 66.4 C584.77 66.19 583.63 65.98 582.5 65.75 C581.6 65.56 580.7 65.35 579.8 65.15 Z" fill="#d9611e"/>
<path d="M572.6 77.05 C575.4 77 578.2 76.96 581 76.9 C584 76.83 587 76.76 590 76.65 C592.33 76.56 594.67 76.4 597 76.25 C599.43 76.1 601.87 75.98 604.3 75.75 C606.2 75.57 608.1 75.25 610 74.95 C611.67 74.69 613.33 74.3 615 74.05 C616.6 73.81 618.2 73.45 619.8 73.45 C621.03 73.45 622.27 73.5 623.5 73.55 C624.6 73.6 625.7 73.7 626.8 73.85 C627.7 73.97 628.6 74.22 629.5 74.55 C630.1 74.77 630.7 75.22 631.3 75.55 L631.3 78.75 C630.7 79.08 630.1 79.53 629.5 79.75 C628.6 80.08 627.7 80.33 626.8 80.45 C625.7 80.6 624.6 80.7 623.5 80.75 C622.27 80.8 621.03 80.85 619.8 80.85 C618.2 80.85 616.6 80.49 615 80.25 C613.33 80 611.67 79.61 610 79.35 C608.1 79.05 606.2 78.73 604.3 78.55 C601.87 78.32 599.43 78.2 597 78.05 C594.67 77.9 592.33 77.74 590 77.65 C587 77.54 584 77.47 581 77.4 C578.2 77.34 575.4 77.3 572.6 77.25 Z" fill="#4aab7e"/>
<path d="M602.3 87.35 C603.2 87.18 604.1 87.04 605 86.85 C606.13 86.61 607.27 86.3 608.4 86 C609.27 85.77 610.13 85.48 611 85.25 C611.83 85.03 612.67 84.78 613.5 84.65 C615 84.41 616.5 84.15 618 84.15 C619.17 84.15 620.33 84.33 621.5 84.45 C622.6 84.56 623.7 84.71 624.8 84.85 C626.5 85.06 628.2 85.28 629.9 85.5 L629.9 90.2 C628.2 90.42 626.5 90.64 624.8 90.85 C623.7 90.99 622.6 91.14 621.5 91.25 C620.33 91.37 619.17 91.55 618 91.55 C616.5 91.55 615 91.29 613.5 91.05 C612.67 90.92 611.83 90.67 611 90.45 C610.13 90.22 609.27 89.93 608.4 89.7 C607.27 89.4 606.13 89.09 605 88.85 C604.1 88.66 603.2 88.52 602.3 88.35 Z" fill="#d9611e"/>
<path d="M504 100.7 C508.67 100.7 513.33 100.71 518 100.71 C522.23 100.71 526.47 100.68 530.7 100.65 C535.13 100.62 539.57 100.55 544 100.47 C548.43 100.39 552.87 100.29 557.3 100.15 C560.2 100.06 563.1 99.92 566 99.75 C568.57 99.6 571.13 99.41 573.7 99.15 C575.8 98.94 577.9 98.56 580 98.25 C581.97 97.96 583.93 97.5 585.9 97.35 C588.63 97.14 591.37 96.95 594.1 96.95 C596.4 96.95 598.7 97.27 601 97.45 C603.47 97.65 605.93 97.85 608.4 98.1 C610.6 98.32 612.8 98.63 615 98.85 C617.57 99.11 620.13 99.35 622.7 99.55 C625.1 99.74 627.5 99.88 629.9 100.05 L629.9 101.45 C627.5 101.62 625.1 101.76 622.7 101.95 C620.13 102.15 617.57 102.39 615 102.65 C612.8 102.87 610.6 103.18 608.4 103.4 C605.93 103.65 603.47 103.85 601 104.05 C598.7 104.23 596.4 104.55 594.1 104.55 C591.37 104.55 588.63 104.36 585.9 104.15 C583.93 104 581.97 103.54 580 103.25 C577.9 102.94 575.8 102.56 573.7 102.35 C571.13 102.09 568.57 101.9 566 101.75 C563.1 101.58 560.2 101.44 557.3 101.35 C552.87 101.21 548.43 101.11 544 101.03 C539.57 100.95 535.13 100.88 530.7 100.85 C526.47 100.82 522.23 100.79 518 100.79 C513.33 100.79 508.67 100.8 504 100.8 Z" fill="#4aab7e"/>
<path d="M503.2 111.15 C504.47 111.17 505.73 111.18 507 111.2 C508.1 111.22 509.2 111.28 510.3 111.3 C512.87 111.35 515.43 111.41 518 111.41 C523.67 111.42 529.33 111.42 535 111.42 C539.7 111.42 544.4 111.34 549.1 111.25 C551.4 111.21 553.7 111.08 556 111 C558.47 110.91 560.93 110.87 563.4 110.75 C565.6 110.65 567.8 110.44 570 110.25 C572.57 110.03 575.13 109.77 577.7 109.5 C580.8 109.18 583.9 108.73 587 108.45 C590.03 108.17 593.07 107.75 596.1 107.75 C598.4 107.75 600.7 108.07 603 108.25 C605.5 108.45 608 108.64 610.5 108.9 C612 109.05 613.5 109.3 615 109.45 C616.9 109.65 618.8 109.77 620.7 109.95 C622.4 110.11 624.1 110.28 625.8 110.45 L625.8 112.45 C624.1 112.62 622.4 112.79 620.7 112.95 C618.8 113.13 616.9 113.25 615 113.45 C613.5 113.6 612 113.85 610.5 114 C608 114.26 605.5 114.45 603 114.65 C600.7 114.83 598.4 115.15 596.1 115.15 C593.07 115.15 590.03 114.73 587 114.45 C583.9 114.17 580.8 113.72 577.7 113.4 C575.13 113.13 572.57 112.87 570 112.65 C567.8 112.46 565.6 112.25 563.4 112.15 C560.93 112.03 558.47 111.99 556 111.9 C553.7 111.82 551.4 111.69 549.1 111.65 C544.4 111.56 539.7 111.48 535 111.48 C529.33 111.48 523.67 111.48 518 111.49 C515.43 111.49 512.87 111.55 510.3 111.6 C509.2 111.62 508.1 111.68 507 111.7 C505.73 111.72 504.47 111.73 503.2 111.75 Z" fill="#d9611e"/>
<path d="M503.2 124.15 C504.9 124.18 506.6 124.21 508.3 124.23 C510.53 124.26 512.77 124.32 515 124.32 C520 124.32 525 124.32 530 124.32 C533.67 124.32 537.33 124.27 541 124.2 C543.67 124.15 546.33 123.99 549 123.85 C551.77 123.71 554.53 123.55 557.3 123.35 C559.2 123.21 561.1 123.03 563 122.85 C565.2 122.65 567.4 122.47 569.6 122.2 C571.4 121.98 573.2 121.63 575 121.35 C577 121.04 579 120.45 581 120.45 C582.67 120.45 584.33 120.98 586 121.25 C588 121.57 590 121.97 592 122.2 C593.67 122.39 595.33 122.51 597 122.65 C598.77 122.8 600.53 122.93 602.3 123.05 C605.2 123.24 608.1 123.4 611 123.55 C613.87 123.7 616.73 123.82 619.6 123.95 L619.6 124.75 C616.73 124.88 613.87 125 611 125.15 C608.1 125.3 605.2 125.46 602.3 125.65 C600.53 125.77 598.77 125.9 597 126.05 C595.33 126.19 593.67 126.31 592 126.5 C590 126.73 588 127.13 586 127.45 C584.33 127.72 582.67 128.25 581 128.25 C579 128.25 577 127.66 575 127.35 C573.2 127.07 571.4 126.72 569.6 126.5 C567.4 126.23 565.2 126.05 563 125.85 C561.1 125.67 559.2 125.49 557.3 125.35 C554.53 125.15 551.77 124.99 549 124.85 C546.33 124.71 543.67 124.55 541 124.5 C537.33 124.43 533.67 124.38 530 124.38 C525 124.38 520 124.38 515 124.38 C512.77 124.38 510.53 124.44 508.3 124.47 C506.6 124.49 504.9 124.52 503.2 124.55 Z" fill="#4aab7e"/>
<path d="M503.2 134.77 C504.8 134.79 506.4 134.8 508 134.83 C509.43 134.85 510.87 134.91 512.3 134.93 C514.87 134.97 517.43 135.01 520 135.01 C524 135.01 528 135.01 532 135.01 C535 135.01 538 134.93 541 134.85 C543.67 134.78 546.33 134.6 549 134.45 C551.77 134.3 554.53 134.12 557.3 133.95 C559.53 133.82 561.77 133.69 564 133.55 C566.53 133.39 569.07 133.29 571.6 133.05 C573.4 132.88 575.2 132.44 577 132.15 C578.73 131.87 580.47 131.35 582.2 131.35 C584.13 131.35 586.07 131.87 588 132.15 C590.03 132.44 592.07 132.85 594.1 133.05 C596.4 133.28 598.7 133.39 601 133.55 C603.6 133.73 606.2 133.88 608.8 134.05 L608.8 136.05 C606.2 136.22 603.6 136.37 601 136.55 C598.7 136.71 596.4 136.82 594.1 137.05 C592.07 137.25 590.03 137.66 588 137.95 C586.07 138.23 584.13 138.75 582.2 138.75 C580.47 138.75 578.73 138.23 577 137.95 C575.2 137.66 573.4 137.22 571.6 137.05 C569.07 136.81 566.53 136.71 564 136.55 C561.77 136.41 559.53 136.28 557.3 136.15 C554.53 135.98 551.77 135.8 549 135.65 C546.33 135.5 543.67 135.32 541 135.25 C538 135.17 535 135.09 532 135.09 C528 135.09 524 135.09 520 135.09 C517.43 135.09 514.87 135.13 512.3 135.17 C510.87 135.19 509.43 135.25 508 135.27 C506.4 135.3 504.8 135.31 503.2 135.33 Z" fill="#d9611e"/>
<path d="M503.2 147.7 C504.47 147.72 505.73 147.73 507 147.75 C508.1 147.77 509.2 147.81 510.3 147.83 C512.87 147.87 515.43 147.91 518 147.91 C522 147.91 526 147.91 530 147.9 C532.97 147.9 535.93 147.82 538.9 147.75 C541.93 147.68 544.97 147.53 548 147.4 C551.1 147.27 554.2 147.1 557.3 146.95 C560.53 146.79 563.77 146.63 567 146.45 C570.57 146.25 574.13 146.08 577.7 145.8 C580.13 145.61 582.57 145.3 585 145.05 C587.7 144.78 590.4 144.25 593.1 144.25 C595.4 144.25 597.7 144.51 600 144.65 C602.8 144.82 605.6 144.97 608.4 145.2 C610.93 145.41 613.47 145.78 616 146.05 C618.57 146.33 621.13 146.58 623.7 146.85 L623.7 149.05 C621.13 149.32 618.57 149.57 616 149.85 C613.47 150.12 610.93 150.49 608.4 150.7 C605.6 150.93 602.8 151.08 600 151.25 C597.7 151.39 595.4 151.65 593.1 151.65 C590.4 151.65 587.7 151.12 585 150.85 C582.57 150.6 580.13 150.29 577.7 150.1 C574.13 149.82 570.57 149.65 567 149.45 C563.77 149.27 560.53 149.11 557.3 148.95 C554.2 148.8 551.1 148.63 548 148.5 C544.97 148.37 541.93 148.22 538.9 148.15 C535.93 148.08 532.97 148 530 148 C526 147.99 522 147.99 518 147.99 C515.43 147.99 512.87 148.03 510.3 148.07 C509.2 148.09 508.1 148.13 507 148.15 C505.73 148.17 504.47 148.18 503.2 148.2 Z" fill="#4aab7e"/>
<path d="M558.9 157.75 C559.93 157.58 560.97 157.41 562 157.25 C563.83 156.96 565.67 156.64 567.5 156.4 C569.67 156.11 571.83 155.85 574 155.65 C576.6 155.41 579.2 155.1 581.8 155.05 C585.37 154.99 588.93 154.95 592.5 154.95 C595.33 154.95 598.17 155.14 601 155.25 C604.17 155.37 607.33 155.46 610.5 155.65 C612.33 155.76 614.17 155.97 616 156.15 C617.7 156.32 619.4 156.52 621.1 156.7 L621.1 160.6 C619.4 160.78 617.7 160.98 616 161.15 C614.17 161.33 612.33 161.54 610.5 161.65 C607.33 161.84 604.17 161.93 601 162.05 C598.17 162.16 595.33 162.35 592.5 162.35 C588.93 162.35 585.37 162.31 581.8 162.25 C579.2 162.2 576.6 161.89 574 161.65 C571.83 161.45 569.67 161.19 567.5 160.9 C565.67 160.66 563.83 160.34 562 160.05 C560.97 159.89 559.93 159.72 558.9 159.55 Z" fill="#d9611e"/>
<path d="M503.2 170.55 C504.8 170.62 506.4 170.68 508 170.75 C509.47 170.81 510.93 170.88 512.4 170.95 C513.93 171.02 515.47 171.11 517 171.15 C518.87 171.2 520.73 171.25 522.6 171.25 C525.07 171.25 527.53 171.07 530 170.95 C532.3 170.84 534.6 170.72 536.9 170.55 C539.6 170.35 542.3 170.02 545 169.75 C547.73 169.47 550.47 169.1 553.2 168.9 C556.47 168.66 559.73 168.44 563 168.35 C566.57 168.25 570.13 168.15 573.7 168.15 C576.8 168.15 579.9 168.46 583 168.65 C586 168.84 589 169.15 592 169.3 C595 169.45 598 169.55 601 169.65 C604.17 169.76 607.33 169.84 610.5 169.95 C613 170.04 615.5 170.16 618 170.25 C620.93 170.36 623.87 170.45 626.8 170.55 L626.8 172.55 C623.87 172.65 620.93 172.74 618 172.85 C615.5 172.94 613 173.06 610.5 173.15 C607.33 173.26 604.17 173.34 601 173.45 C598 173.55 595 173.65 592 173.8 C589 173.95 586 174.26 583 174.45 C579.9 174.64 576.8 174.95 573.7 174.95 C570.13 174.95 566.57 174.85 563 174.75 C559.73 174.66 556.47 174.44 553.2 174.2 C550.47 174 547.73 173.63 545 173.35 C542.3 173.08 539.6 172.75 536.9 172.55 C534.6 172.38 532.3 172.26 530 172.15 C527.53 172.03 525.07 171.85 522.6 171.85 C520.73 171.85 518.87 171.9 517 171.95 C515.47 171.99 513.93 172.08 512.4 172.15 C510.93 172.22 509.47 172.29 508 172.35 C506.4 172.42 504.8 172.48 503.2 172.55 Z" fill="#4aab7e"/>
<path d="M503.2 181.75 C505.47 181.77 507.73 181.78 510 181.8 C512.13 181.82 514.27 181.85 516.4 181.85 C518.93 181.85 521.47 181.73 524 181.65 C526.93 181.56 529.87 181.48 532.8 181.35 C536.2 181.2 539.6 180.91 543 180.65 C546.4 180.39 549.8 180.1 553.2 179.8 C555.47 179.6 557.73 179.33 560 179.15 C562.5 178.95 565 178.65 567.5 178.65 C569.7 178.65 571.9 178.76 574.1 178.85 C577.07 178.97 580.03 179.18 583 179.35 C586 179.53 589 179.76 592 179.9 C596.67 180.11 601.33 180.25 606 180.4 C611.23 180.57 616.47 180.7 621.7 180.85 L621.7 183.65 C616.47 183.8 611.23 183.93 606 184.1 C601.33 184.25 596.67 184.39 592 184.6 C589 184.74 586 184.97 583 185.15 C580.03 185.32 577.07 185.53 574.1 185.65 C571.9 185.74 569.7 185.85 567.5 185.85 C565 185.85 562.5 185.55 560 185.35 C557.73 185.17 555.47 184.9 553.2 184.7 C549.8 184.4 546.4 184.11 543 183.85 C539.6 183.59 536.2 183.3 532.8 183.15 C529.87 183.02 526.93 182.94 524 182.85 C521.47 182.77 518.93 182.65 516.4 182.65 C514.27 182.65 512.13 182.68 510 182.7 C507.73 182.72 505.47 182.73 503.2 182.75 Z" fill="#d9611e"/>
<circle cx="624.8" cy="29.95" r="1" fill="#000"/>
<circle cx="625.2" cy="40.65" r="1" fill="#000"/>
<circle cx="601.9" cy="53.55" r="1" fill="#000"/>
<circle cx="599.8" cy="64.25" r="1" fill="#000"/>
<circle cx="619.8" cy="77.15" r="1" fill="#000"/>
<circle cx="618" cy="87.85" r="1" fill="#000"/>
<circle cx="594.1" cy="100.75" r="1" fill="#000"/>
<circle cx="596.1" cy="111.45" r="1" fill="#000"/>
<circle cx="581" cy="124.35" r="1" fill="#000"/>
<circle cx="582.2" cy="135.05" r="1" fill="#000"/>
<circle cx="593.1" cy="147.95" r="1" fill="#000"/>
<circle cx="592.5" cy="158.65" r="1" fill="#000"/>
<circle cx="573.7" cy="171.55" r="1" fill="#000"/>
<circle cx="574.1" cy="182.25" r="1" fill="#000"/>
<text x="646.9" y="37.3" font-size="5.4" text-anchor="middle" fill="#000" >0.987</text>
<text x="668" y="37.3" font-size="5.4" text-anchor="middle" fill="#000" >0.987</text>
<text x="646.9" y="60.9" font-size="5.4" text-anchor="middle" fill="#000" >0.497</text>
<text x="668" y="60.9" font-size="5.4" text-anchor="middle" fill="#000" >0.775</text>
<text x="646.9" y="84.5" font-size="5.4" text-anchor="middle" fill="#000" >0.426</text>
<text x="668" y="84.5" font-size="5.4" text-anchor="middle" fill="#000" >0.775</text>
<text x="646.9" y="108.1" font-size="5.4" text-anchor="middle" fill="#000" >0.362</text>
<text x="668" y="108.1" font-size="5.4" text-anchor="middle" fill="#000" >0.775</text>
<text x="646.9" y="131.7" font-size="5.4" text-anchor="middle" fill="#000" >0.613</text>
<text x="668" y="131.7" font-size="5.4" text-anchor="middle" fill="#000" >0.775</text>
<text x="646.9" y="155.3" font-size="5.4" text-anchor="middle" fill="#000" >0.665</text>
<text x="668" y="155.3" font-size="5.4" text-anchor="middle" fill="#000" >0.775</text>
<text x="646.9" y="178.9" font-size="5.4" text-anchor="middle" fill="#000" >0.325</text>
<text x="668" y="178.9" font-size="5.4" text-anchor="middle" fill="#000" >0.775</text>
<rect x="494.5" y="21.5" width="189" height="169.3" fill="none" stroke="#a8a8a8" stroke-width="1"/>
<line x1="502.6" y1="190.8" x2="502.6" y2="193" stroke="#3a3a3a" stroke-width="0.8" />
<text transform="translate(502.9 193.8) rotate(-45)" x="0" y="5.3" font-size="7.7" text-anchor="end" fill="#4d4d4d">0%</text>
<line x1="567.3" y1="190.8" x2="567.3" y2="193" stroke="#3a3a3a" stroke-width="0.8" />
<text transform="translate(567.6 193.8) rotate(-45)" x="0" y="5.3" font-size="7.7" text-anchor="end" fill="#4d4d4d">0.1%</text>
<line x1="588.75" y1="190.8" x2="588.75" y2="193" stroke="#3a3a3a" stroke-width="0.8" />
<text transform="translate(589.05 193.8) rotate(-45)" x="0" y="5.3" font-size="7.7" text-anchor="end" fill="#4d4d4d">1%</text>
<line x1="610.5" y1="190.8" x2="610.5" y2="193" stroke="#3a3a3a" stroke-width="0.8" />
<text transform="translate(610.8 193.8) rotate(-45)" x="0" y="5.3" font-size="7.7" text-anchor="end" fill="#4d4d4d">10%</text>
<line x1="631.7" y1="190.8" x2="631.7" y2="193" stroke="#3a3a3a" stroke-width="0.8" />
<text transform="translate(632 193.8) rotate(-45)" x="0" y="5.3" font-size="7.7" text-anchor="end" fill="#4d4d4d">100%</text>
<line x1="650.3" y1="190.8" x2="650.3" y2="193" stroke="#3a3a3a" stroke-width="0.8" />
<text transform="translate(650.6 193.8) rotate(-45)" x="0" y="5.3" font-size="7.7" text-anchor="end" fill="#4d4d4d">P-value</text>
<line x1="671.4" y1="190.8" x2="671.4" y2="193" stroke="#3a3a3a" stroke-width="0.8" />
<text transform="translate(671.7 193.8) rotate(-45)" x="0" y="5.3" font-size="7.7" text-anchor="end" fill="#4d4d4d">q-value</text>
<text x="104.1" y="37.8" font-size="7.7" text-anchor="end" fill="#4d4d4d" >Bacteroidota</text>
<line x1="104.8" y1="35.3" x2="107.5" y2="35.3" stroke="#3a3a3a" stroke-width="0.8" />
<text x="104.1" y="61.4" font-size="7.7" text-anchor="end" fill="#4d4d4d" >Proteobacteria</text>
<line x1="104.8" y1="58.9" x2="107.5" y2="58.9" stroke="#3a3a3a" stroke-width="0.8" />
<text x="104.1" y="85" font-size="7.7" text-anchor="end" fill="#4d4d4d" >Firmicutes A</text>
<line x1="104.8" y1="82.5" x2="107.5" y2="82.5" stroke="#3a3a3a" stroke-width="0.8" />
<text x="104.1" y="108.6" font-size="7.7" text-anchor="end" fill="#4d4d4d" >Actinobacteriota</text>
<line x1="104.8" y1="106.1" x2="107.5" y2="106.1" stroke="#3a3a3a" stroke-width="0.8" />
<text x="104.1" y="132.2" font-size="7.7" text-anchor="end" fill="#4d4d4d" >Firmicutes</text>
<line x1="104.8" y1="129.7" x2="107.5" y2="129.7" stroke="#3a3a3a" stroke-width="0.8" />
<text x="104.1" y="155.8" font-size="7.7" text-anchor="end" fill="#4d4d4d" >Firmicutes C</text>
<line x1="104.8" y1="153.3" x2="107.5" y2="153.3" stroke="#3a3a3a" stroke-width="0.8" />
<text x="104.1" y="179.4" font-size="7.7" text-anchor="end" fill="#4d4d4d" >Other phylum</text>
<line x1="104.8" y1="176.9" x2="107.5" y2="176.9" stroke="#3a3a3a" stroke-width="0.8" />
<text transform="translate(12.2 106.15) rotate(-90)" font-size="8.4" text-anchor="middle" fill="#000">Early-life Phyla</text>
<text x="395.7" y="226" font-size="8.4" text-anchor="middle" fill="#000" >Relative abundance (%)</text>
<text x="319.2" y="245.6" font-size="8.35" text-anchor="start" fill="#000" >ADHD Diagnosis 10 Years</text>
<rect x="421.5" y="239.1" width="7.4" height="7.5" fill="#d9611e"/>
<circle cx="425.2" cy="242.85" r="0.95" fill="#000"/>
<text x="433.4" y="245.6" font-size="7.7" text-anchor="start" fill="#000" >Yes</text>
<rect x="450.3" y="239.1" width="7.4" height="7.5" fill="#4aab7e"/>
<circle cx="454" cy="242.85" r="0.95" fill="#000"/>
<text x="461.8" y="245.6" font-size="7.7" text-anchor="start" fill="#000" >No</text>
<text x="0.3" y="265" font-size="8.7" fill="#000">B</text>
<text x="241.5" y="286.2" font-size="8.5" text-anchor="middle" fill="#1a1a1a" >1 week, n = 473</text>
<line x1="107.5" y1="315.97" x2="375.5" y2="315.97" stroke="#e6e6e6" stroke-width="0.9" />
<line x1="107.5" y1="339.51" x2="375.5" y2="339.51" stroke="#e6e6e6" stroke-width="0.9" />
<line x1="107.5" y1="363.05" x2="375.5" y2="363.05" stroke="#e6e6e6" stroke-width="0.9" />
<line x1="107.5" y1="386.59" x2="375.5" y2="386.59" stroke="#e6e6e6" stroke-width="0.9" />
<line x1="107.5" y1="410.13" x2="375.5" y2="410.13" stroke="#e6e6e6" stroke-width="0.9" />
<line x1="107.5" y1="433.67" x2="375.5" y2="433.67" stroke="#e6e6e6" stroke-width="0.9" />
<line x1="210.7" y1="290.3" x2="210.7" y2="459.5" stroke="#cfcfcf" stroke-width="0.6" stroke-dasharray="2.4 2.6"/>
<line x1="241" y1="290.3" x2="241" y2="459.5" stroke="#cfcfcf" stroke-width="0.6" stroke-dasharray="2.4 2.6"/>
<line x1="271.6" y1="290.3" x2="271.6" y2="459.5" stroke="#cfcfcf" stroke-width="0.6" stroke-dasharray="2.4 2.6"/>
<line x1="302.1" y1="290.3" x2="302.1" y2="459.5" stroke="#cfcfcf" stroke-width="0.6" stroke-dasharray="2.4 2.6"/>
<path d="M182.9 298.55 C184.6 298.47 186.3 298.37 188 298.3 C190.23 298.2 192.47 298.11 194.7 298.05 C199.97 297.91 205.23 297.84 210.5 297.75 C218.37 297.61 226.23 297.55 234.1 297.35 C237.4 297.27 240.7 297.09 244 296.95 C247.27 296.81 250.53 296.55 253.8 296.5 C257.87 296.44 261.93 296.46 266 296.4 C268.67 296.36 271.33 296.09 274 295.95 C276.47 295.82 278.93 295.6 281.4 295.6 C286 295.6 290.6 295.6 295.2 295.6 C296.3 295.6 297.4 295.8 298.5 295.95 C299.37 296.07 300.23 296.25 301.1 296.4 L301.1 301.3 C300.23 301.45 299.37 301.63 298.5 301.75 C297.4 301.9 296.3 302.1 295.2 302.1 C290.6 302.1 286 302.1 281.4 302.1 C278.93 302.1 276.47 301.88 274 301.75 C271.33 301.61 268.67 301.34 266 301.3 C261.93 301.24 257.87 301.26 253.8 301.2 C250.53 301.15 247.27 300.89 244 300.75 C240.7 300.61 237.4 300.43 234.1 300.35 C226.23 300.15 218.37 300.09 210.5 299.95 C205.23 299.86 199.97 299.79 194.7 299.65 C192.47 299.59 190.23 299.5 188 299.4 C186.3 299.33 184.6 299.23 182.9 299.15 Z" fill="#4aab7e"/>
<path d="M197.1 309.3 C201.4 309.27 205.7 309.24 210 309.2 C214.77 309.16 219.53 309.11 224.3 309.05 C229.53 308.98 234.77 308.87 240 308.75 C244.6 308.64 249.2 308.53 253.8 308.35 C256.2 308.26 258.6 308.09 261 307.95 C263.2 307.82 265.4 307.72 267.6 307.55 C269.73 307.38 271.87 307.06 274 306.85 C276.33 306.62 278.67 306.2 281 306.2 C283 306.2 285 306.29 287 306.35 C289.07 306.41 291.13 306.51 293.2 306.6 C295.33 306.69 297.47 306.8 299.6 306.9 L299.6 312.2 C297.47 312.3 295.33 312.41 293.2 312.5 C291.13 312.59 289.07 312.69 287 312.75 C285 312.81 283 312.9 281 312.9 C278.67 312.9 276.33 312.48 274 312.25 C271.87 312.04 269.73 311.72 267.6 311.55 C265.4 311.38 263.2 311.28 261 311.15 C258.6 311.01 256.2 310.84 253.8 310.75 C249.2 310.57 244.6 310.46 240 310.35 C234.77 310.23 229.53 310.12 224.3 310.05 C219.53 309.99 214.77 309.94 210 309.9 C205.7 309.86 201.4 309.83 197.1 309.8 Z" fill="#d9611e"/>
<path d="M119.3 318.59 C120.53 318.76 121.77 318.9 123 319.09 C124.5 319.32 126 319.63 127.5 319.89 C129.33 320.2 131.17 320.57 133 320.79 C135.07 321.04 137.13 321.34 139.2 321.39 C142.8 321.48 146.4 321.52 150 321.54 C156.13 321.57 162.27 321.58 168.4 321.59 C187.87 321.63 207.33 321.64 226.8 321.69 C237.87 321.72 248.93 321.77 260 321.84 C264.67 321.87 269.33 321.94 274 321.99 L274 322.79 C269.33 322.84 264.67 322.91 260 322.94 C248.93 323.01 237.87 323.06 226.8 323.09 C207.33 323.14 187.87 323.15 168.4 323.19 C162.27 323.2 156.13 323.21 150 323.24 C146.4 323.26 142.8 323.3 139.2 323.39 C137.13 323.44 135.07 323.74 133 323.99 C131.17 324.21 129.33 324.58 127.5 324.89 C126 325.15 124.5 325.46 123 325.69 C121.77 325.88 120.53 326.02 119.3 326.19 Z" fill="#4aab7e"/>
<path d="M119.3 329.44 C121.2 329.66 123.1 329.87 125 330.09 C127.8 330.42 130.6 330.9 133.4 331.09 C136.6 331.31 139.8 331.44 143 331.54 C146.6 331.65 150.2 331.74 153.8 331.79 C160.87 331.89 167.93 331.95 175 331.99 C182.53 332.04 190.07 332.09 197.6 332.09 C207.33 332.09 217.07 331.99 226.8 331.99 C232.87 331.99 238.93 332.09 245 332.14 C250 332.19 255 332.24 260 332.29 L260 333.89 C255 333.94 250 333.99 245 334.04 C238.93 334.09 232.87 334.19 226.8 334.19 C217.07 334.19 207.33 334.09 197.6 334.09 C190.07 334.09 182.53 334.14 175 334.19 C167.93 334.23 160.87 334.29 153.8 334.39 C150.2 334.44 146.6 334.53 143 334.64 C139.8 334.74 136.6 334.87 133.4 335.09 C130.6 335.28 127.8 335.76 125 336.09 C123.1 336.31 121.2 336.52 119.3 336.74 Z" fill="#d9611e"/>
<path d="M119.3 342.28 C120.87 342.5 122.43 342.71 124 342.93 C125.83 343.19 127.67 343.45 129.5 343.73 C131.33 344.01 133.17 344.38 135 344.63 C137.07 344.91 139.13 345.23 141.2 345.33 C143.47 345.44 145.73 345.49 148 345.53 C150.6 345.58 153.2 345.61 155.8 345.63 C170.53 345.72 185.27 345.76 200 345.78 C216.67 345.81 233.33 345.81 250 345.83 C262.5 345.84 275 345.86 287.5 345.88 L287.5 345.98 C275 346 262.5 346.02 250 346.03 C233.33 346.05 216.67 346.05 200 346.08 C185.27 346.1 170.53 346.14 155.8 346.23 C153.2 346.25 150.6 346.28 148 346.33 C145.73 346.37 143.47 346.42 141.2 346.53 C139.13 346.63 137.07 346.95 135 347.23 C133.17 347.48 131.33 347.85 129.5 348.13 C127.67 348.41 125.83 348.67 124 348.93 C122.43 349.15 120.87 349.36 119.3 349.58 Z" fill="#4aab7e"/>
<path d="M119.3 352.73 C121.2 353 123.1 353.26 125 353.53 C127.47 353.89 129.93 354.33 132.4 354.63 C134.93 354.94 137.47 355.24 140 355.43 C142.33 355.6 144.67 355.75 147 355.83 C150.67 355.95 154.33 356.02 158 356.08 C162.13 356.15 166.27 356.23 170.4 356.23 C180.13 356.23 189.87 356.23 199.6 356.23 C208.07 356.23 216.53 356.26 225 356.28 C232.87 356.3 240.73 356.31 248.6 356.33 L248.6 356.93 C240.73 356.95 232.87 356.96 225 356.98 C216.53 357 208.07 357.03 199.6 357.03 C189.87 357.03 180.13 357.03 170.4 357.03 C166.27 357.03 162.13 357.11 158 357.18 C154.33 357.24 150.67 357.31 147 357.43 C144.67 357.51 142.33 357.66 140 357.83 C137.47 358.02 134.93 358.32 132.4 358.63 C129.93 358.93 127.47 359.37 125 359.73 C123.1 360 121.2 360.26 119.3 360.53 Z" fill="#d9611e"/>
<path d="M119.3 365.97 C120.87 366.2 122.43 366.44 124 366.67 C125.83 366.94 127.67 367.22 129.5 367.47 C131.67 367.76 133.83 368.11 136 368.27 C138.7 368.46 141.4 368.67 144.1 368.67 C147.4 368.67 150.7 368.61 154 368.57 C157.53 368.52 161.07 368.45 164.6 368.37 C168.4 368.29 172.2 368.15 176 368.07 C179.97 367.99 183.93 367.87 187.9 367.87 C191.93 367.87 195.97 367.96 200 368.02 C204.73 368.09 209.47 368.2 214.2 368.27 C223.93 368.42 233.67 368.48 243.4 368.67 C247.97 368.76 252.53 368.94 257.1 369.07 L257.1 369.87 C252.53 370 247.97 370.18 243.4 370.27 C233.67 370.46 223.93 370.52 214.2 370.67 C209.47 370.74 204.73 370.85 200 370.92 C195.97 370.98 191.93 371.07 187.9 371.07 C183.93 371.07 179.97 370.95 176 370.87 C172.2 370.79 168.4 370.65 164.6 370.57 C161.07 370.49 157.53 370.42 154 370.37 C150.7 370.33 147.4 370.27 144.1 370.27 C141.4 370.27 138.7 370.48 136 370.67 C133.83 370.83 131.67 371.18 129.5 371.47 C127.67 371.72 125.83 372 124 372.27 C122.43 372.5 120.87 372.74 119.3 372.97 Z" fill="#4aab7e"/>
<path d="M119.3 376.07 C121.2 376.34 123.1 376.6 125 376.87 C127.47 377.23 129.93 377.72 132.4 377.97 C134.93 378.23 137.47 378.43 140 378.57 C143.33 378.75 146.67 378.97 150 378.97 C155 378.97 160 378.83 165 378.77 C170.7 378.7 176.4 378.57 182.1 378.57 C187.4 378.57 192.7 378.63 198 378.67 C203.4 378.71 208.8 378.79 214.2 378.87 C223.93 379.01 233.67 379.15 243.4 379.37 C249.03 379.5 254.67 379.7 260.3 379.87 L260.3 380.47 C254.67 380.64 249.03 380.84 243.4 380.97 C233.67 381.19 223.93 381.33 214.2 381.47 C208.8 381.55 203.4 381.63 198 381.67 C192.7 381.71 187.4 381.77 182.1 381.77 C176.4 381.77 170.7 381.64 165 381.57 C160 381.51 155 381.37 150 381.37 C146.67 381.37 143.33 381.59 140 381.77 C137.47 381.91 134.93 382.11 132.4 382.37 C129.93 382.62 127.47 383.11 125 383.47 C123.1 383.74 121.2 384 119.3 384.27 Z" fill="#d9611e"/>
<path d="M119.3 389.51 C120.87 389.74 122.43 389.98 124 390.21 C125.83 390.48 127.67 390.76 129.5 391.01 C131.33 391.26 133.17 391.51 135 391.71 C137.07 391.94 139.13 392.17 141.2 392.31 C143.47 392.46 145.73 392.58 148 392.66 C150.6 392.75 153.2 392.86 155.8 392.86 C165.53 392.86 175.27 392.83 185 392.83 C199.6 392.83 214.2 392.87 228.8 392.89 C241.43 392.91 254.07 392.94 266.7 392.96 L266.7 393.06 C254.07 393.08 241.43 393.11 228.8 393.13 C214.2 393.15 199.6 393.19 185 393.19 C175.27 393.19 165.53 393.16 155.8 393.16 C153.2 393.16 150.6 393.27 148 393.36 C145.73 393.44 143.47 393.56 141.2 393.71 C139.13 393.85 137.07 394.08 135 394.31 C133.17 394.51 131.33 394.76 129.5 395.01 C127.67 395.26 125.83 395.54 124 395.81 C122.43 396.04 120.87 396.28 119.3 396.51 Z" fill="#4aab7e"/>
<path d="M119.3 399.81 C121.2 400.08 123.1 400.36 125 400.61 C127.47 400.93 129.93 401.21 132.4 401.51 C134.93 401.81 137.47 402.19 140 402.41 C142.33 402.62 144.67 402.79 147 402.91 C149.67 403.04 152.33 403.14 155 403.21 C158.2 403.3 161.4 403.41 164.6 403.41 C176.27 403.41 187.93 403.31 199.6 403.31 C209.63 403.31 219.67 403.38 229.7 403.41 L229.7 404.01 C219.67 404.04 209.63 404.11 199.6 404.11 C187.93 404.11 176.27 404.01 164.6 404.01 C161.4 404.01 158.2 404.12 155 404.21 C152.33 404.28 149.67 404.38 147 404.51 C144.67 404.63 142.33 404.8 140 405.01 C137.47 405.23 134.93 405.61 132.4 405.91 C129.93 406.21 127.47 406.49 125 406.81 C123.1 407.06 121.2 407.34 119.3 407.61 Z" fill="#d9611e"/>
<path d="M119.3 413.05 C120.87 413.32 122.43 413.59 124 413.85 C125.83 414.16 127.67 414.47 129.5 414.75 C131.33 415.03 133.17 415.36 135 415.55 C137.07 415.77 139.13 415.98 141.2 416.05 C146.07 416.22 150.93 416.33 155.8 416.35 C170.53 416.41 185.27 416.41 200 416.43 C221.27 416.46 242.53 416.47 263.8 416.49 L263.8 416.61 C242.53 416.63 221.27 416.64 200 416.67 C185.27 416.69 170.53 416.69 155.8 416.75 C150.93 416.77 146.07 416.88 141.2 417.05 C139.13 417.12 137.07 417.33 135 417.55 C133.17 417.74 131.33 418.07 129.5 418.35 C127.67 418.63 125.83 418.94 124 419.25 C122.43 419.51 120.87 419.78 119.3 420.05 Z" fill="#4aab7e"/>
<path d="M119.3 423.45 C121.2 423.75 123.1 424.06 125 424.35 C127.47 424.73 129.93 425.17 132.4 425.45 C134.93 425.74 137.47 426 140 426.15 C142.33 426.29 144.67 426.41 147 426.45 C154.8 426.58 162.6 426.61 170.4 426.65 C180.27 426.7 190.13 426.71 200 426.75 C205.7 426.78 211.4 426.82 217.1 426.85 L217.1 427.65 C211.4 427.68 205.7 427.72 200 427.75 C190.13 427.79 180.27 427.8 170.4 427.85 C162.6 427.89 154.8 427.92 147 428.05 C144.67 428.09 142.33 428.21 140 428.35 C137.47 428.5 134.93 428.76 132.4 429.05 C129.93 429.33 127.47 429.77 125 430.15 C123.1 430.44 121.2 430.75 119.3 431.05 Z" fill="#d9611e"/>
<path d="M119.3 436.59 C120.87 436.82 122.43 437.06 124 437.29 C125.83 437.56 127.67 437.84 129.5 438.09 C131.33 438.34 133.17 438.66 135 438.79 C137.07 438.94 139.13 439.09 141.2 439.09 C146.07 439.09 150.93 438.91 155.8 438.79 C160.53 438.67 165.27 438.46 170 438.34 C175 438.22 180 438.04 185 438.04 C190 438.04 195 438.19 200 438.29 C204.73 438.39 209.47 438.56 214.2 438.69 C219.47 438.83 224.73 438.96 230 439.09 C235.23 439.22 240.47 439.36 245.7 439.49 L245.7 440.69 C240.47 440.82 235.23 440.96 230 441.09 C224.73 441.22 219.47 441.35 214.2 441.49 C209.47 441.62 204.73 441.79 200 441.89 C195 441.99 190 442.14 185 442.14 C180 442.14 175 441.96 170 441.84 C165.27 441.72 160.53 441.51 155.8 441.39 C150.93 441.27 146.07 441.09 141.2 441.09 C139.13 441.09 137.07 441.24 135 441.39 C133.17 441.52 131.33 441.84 129.5 442.09 C127.67 442.34 125.83 442.62 124 442.89 C122.43 443.12 120.87 443.36 119.3 443.59 Z" fill="#4aab7e"/>
<path d="M119.3 446.89 C120.87 447.02 122.43 447.15 124 447.29 C125.83 447.45 127.67 447.61 129.5 447.79 C131 447.94 132.5 448.14 134 448.29 C135.9 448.48 137.8 448.7 139.7 448.79 C144.1 449 148.5 449.19 152.9 449.19 C157.93 449.19 162.97 448.83 168 448.69 C173.67 448.53 179.33 448.29 185 448.29 C190 448.29 195 448.47 200 448.59 C204.73 448.7 209.47 448.86 214.2 448.99 C220.13 449.16 226.07 449.34 232 449.49 C237.73 449.64 243.47 449.76 249.2 449.89 L249.2 451.69 C243.47 451.82 237.73 451.94 232 452.09 C226.07 452.24 220.13 452.42 214.2 452.59 C209.47 452.72 204.73 452.88 200 452.99 C195 453.11 190 453.29 185 453.29 C179.33 453.29 173.67 453.05 168 452.89 C162.97 452.75 157.93 452.39 152.9 452.39 C148.5 452.39 144.1 452.58 139.7 452.79 C137.8 452.88 135.9 453.1 134 453.29 C132.5 453.44 131 453.64 129.5 453.79 C127.67 453.97 125.83 454.13 124 454.29 C122.43 454.43 120.87 454.56 119.3 454.69 Z" fill="#d9611e"/>
<circle cx="266" cy="298.85" r="1" fill="#000"/>
<circle cx="281" cy="309.55" r="1" fill="#000"/>
<circle cx="119.3" cy="322.39" r="1" fill="#000"/>
<circle cx="119.3" cy="333.09" r="1" fill="#000"/>
<circle cx="119.3" cy="345.93" r="1" fill="#000"/>
<circle cx="119.3" cy="356.63" r="1" fill="#000"/>
<circle cx="119.3" cy="369.47" r="1" fill="#000"/>
<circle cx="119.3" cy="380.17" r="1" fill="#000"/>
<circle cx="119.3" cy="393.01" r="1" fill="#000"/>
<circle cx="119.3" cy="403.71" r="1" fill="#000"/>
<circle cx="119.3" cy="416.55" r="1" fill="#000"/>
<circle cx="119.3" cy="427.25" r="1" fill="#000"/>
<circle cx="119.3" cy="440.09" r="1" fill="#000"/>
<circle cx="139.8" cy="450.79" r="1" fill="#000"/>
<text x="325.6" y="306.2" font-size="5.4" text-anchor="middle" fill="#000" font-weight="bold">0.004</text>
<text x="356.6" y="306.2" font-size="5.4" text-anchor="middle" fill="#000" font-weight="bold">0.027</text>
<text x="325.6" y="329.74" font-size="5.4" text-anchor="middle" fill="#000" >0.887</text>
<text x="356.6" y="329.74" font-size="5.4" text-anchor="middle" fill="#000" >0.997</text>
<text x="325.6" y="353.28" font-size="5.4" text-anchor="middle" fill="#000" >0.759</text>
<text x="356.6" y="353.28" font-size="5.4" text-anchor="middle" fill="#000" >0.997</text>
<text x="325.6" y="376.82" font-size="5.4" text-anchor="middle" fill="#000" >0.693</text>
<text x="356.6" y="376.82" font-size="5.4" text-anchor="middle" fill="#000" >0.997</text>
<text x="325.6" y="400.36" font-size="5.4" text-anchor="middle" fill="#000" >0.997</text>
<text x="356.6" y="400.36" font-size="5.4" text-anchor="middle" fill="#000" >0.997</text>
<text x="325.6" y="423.9" font-size="5.4" text-anchor="middle" fill="#000" >0.534</text>
<text x="356.6" y="423.9" font-size="5.4" text-anchor="middle" fill="#000" >0.997</text>
<text x="325.6" y="447.44" font-size="5.4" text-anchor="middle" fill="#000" >0.844</text>
<text x="356.6" y="447.44" font-size="5.4" text-anchor="middle" fill="#000" >0.997</text>
<rect x="107.5" y="290.3" width="268" height="169.2" fill="none" stroke="#a8a8a8" stroke-width="1"/>
<line x1="119.2" y1="459.5" x2="119.2" y2="461.7" stroke="#3a3a3a" stroke-width="0.8" />
<text transform="translate(119.5 462.5) rotate(-45)" x="0" y="5.3" font-size="7.7" text-anchor="end" fill="#4d4d4d">0%</text>
<line x1="210.7" y1="459.5" x2="210.7" y2="461.7" stroke="#3a3a3a" stroke-width="0.8" />
<text transform="translate(211 462.5) rotate(-45)" x="0" y="5.3" font-size="7.7" text-anchor="end" fill="#4d4d4d">0.1%</text>
<line x1="241" y1="459.5" x2="241" y2="461.7" stroke="#3a3a3a" stroke-width="0.8" />
<text transform="translate(241.3 462.5) rotate(-45)" x="0" y="5.3" font-size="7.7" text-anchor="end" fill="#4d4d4d">1%</text>
<line x1="271.6" y1="459.5" x2="271.6" y2="461.7" stroke="#3a3a3a" stroke-width="0.8" />
<text transform="translate(271.9 462.5) rotate(-45)" x="0" y="5.3" font-size="7.7" text-anchor="end" fill="#4d4d4d">10%</text>
<line x1="302.1" y1="459.5" x2="302.1" y2="461.7" stroke="#3a3a3a" stroke-width="0.8" />
<text transform="translate(302.4 462.5) rotate(-45)" x="0" y="5.3" font-size="7.7" text-anchor="end" fill="#4d4d4d">100%</text>
<line x1="327.5" y1="459.5" x2="327.5" y2="461.7" stroke="#3a3a3a" stroke-width="0.8" />
<text transform="translate(327.8 462.5) rotate(-45)" x="0" y="5.3" font-size="7.7" text-anchor="end" fill="#4d4d4d">P-value</text>
<line x1="358.5" y1="459.5" x2="358.5" y2="461.7" stroke="#3a3a3a" stroke-width="0.8" />
<text transform="translate(358.8 462.5) rotate(-45)" x="0" y="5.3" font-size="7.7" text-anchor="end" fill="#4d4d4d">q-value</text>
<text x="104.1" y="306.7" font-size="7.7" text-anchor="end" fill="#4d4d4d" font-style="italic">Bifidobacterium</text>
<line x1="104.8" y1="304.2" x2="107.5" y2="304.2" stroke="#3a3a3a" stroke-width="0.8" />
<text x="104.1" y="330.24" font-size="7.7" text-anchor="end" fill="#4d4d4d" font-style="italic">Collinsella</text>
<line x1="104.8" y1="327.74" x2="107.5" y2="327.74" stroke="#3a3a3a" stroke-width="0.8" />
<text x="104.1" y="353.78" font-size="7.7" text-anchor="end" fill="#4d4d4d" font-style="italic">Actinomyces</text>
<line x1="104.8" y1="351.28" x2="107.5" y2="351.28" stroke="#3a3a3a" stroke-width="0.8" />
<text x="104.1" y="377.32" font-size="7.7" text-anchor="end" fill="#4d4d4d" font-style="italic">Rothia</text>
<line x1="104.8" y1="374.82" x2="107.5" y2="374.82" stroke="#3a3a3a" stroke-width="0.8" />
<text x="104.1" y="400.86" font-size="7.7" text-anchor="end" fill="#4d4d4d" font-style="italic">Family Actinomycetaceae</text>
<line x1="104.8" y1="398.36" x2="107.5" y2="398.36" stroke="#3a3a3a" stroke-width="0.8" />
<text x="104.1" y="424.4" font-size="7.7" text-anchor="end" fill="#4d4d4d" font-style="italic">Actinomyces B</text>
<line x1="104.8" y1="421.9" x2="107.5" y2="421.9" stroke="#3a3a3a" stroke-width="0.8" />
<text x="104.1" y="447.94" font-size="7.7" text-anchor="end" fill="#4d4d4d" >Other Actinobacteriota</text>
<line x1="104.8" y1="445.44" x2="107.5" y2="445.44" stroke="#3a3a3a" stroke-width="0.8" />
<text transform="translate(12.2 374.9) rotate(-90)" font-size="8.4" text-anchor="middle" fill="#000">1-week Actinobacteriota Genera</text>
<text x="241.3" y="494.8" font-size="8.4" text-anchor="middle" fill="#000" >Relative abundance (%)</text>
<text x="382.3" y="265" font-size="9.2" fill="#000">C</text>
<line x1="415.5" y1="444.35" x2="683.5" y2="444.35" stroke="#f2f2f2" stroke-width="0.5" />
<line x1="415.5" y1="428.85" x2="683.5" y2="428.85" stroke="#f2f2f2" stroke-width="0.5" />
<line x1="415.5" y1="413.35" x2="683.5" y2="413.35" stroke="#f2f2f2" stroke-width="0.5" />
<line x1="415.5" y1="397.85" x2="683.5" y2="397.85" stroke="#f2f2f2" stroke-width="0.5" />
<line x1="415.5" y1="382.35" x2="683.5" y2="382.35" stroke="#f2f2f2" stroke-width="0.5" />
<line x1="415.5" y1="366.85" x2="683.5" y2="366.85" stroke="#f2f2f2" stroke-width="0.5" />
<line x1="415.5" y1="351.35" x2="683.5" y2="351.35" stroke="#f2f2f2" stroke-width="0.5" />
<line x1="415.5" y1="335.85" x2="683.5" y2="335.85" stroke="#f2f2f2" stroke-width="0.5" />
<line x1="415.5" y1="320.35" x2="683.5" y2="320.35" stroke="#f2f2f2" stroke-width="0.5" />
<line x1="415.5" y1="304.85" x2="683.5" y2="304.85" stroke="#f2f2f2" stroke-width="0.5" />
<line x1="415.5" y1="452.1" x2="683.5" y2="452.1" stroke="#e8e8e8" stroke-width="0.7" />
<line x1="415.5" y1="436.6" x2="683.5" y2="436.6" stroke="#e8e8e8" stroke-width="0.7" />
<line x1="415.5" y1="421.1" x2="683.5" y2="421.1" stroke="#e8e8e8" stroke-width="0.7" />
<line x1="415.5" y1="405.6" x2="683.5" y2="405.6" stroke="#e8e8e8" stroke-width="0.7" />
<line x1="415.5" y1="390.1" x2="683.5" y2="390.1" stroke="#e8e8e8" stroke-width="0.7" />
<line x1="415.5" y1="374.6" x2="683.5" y2="374.6" stroke="#e8e8e8" stroke-width="0.7" />
<line x1="415.5" y1="359.1" x2="683.5" y2="359.1" stroke="#e8e8e8" stroke-width="0.7" />
<line x1="415.5" y1="343.6" x2="683.5" y2="343.6" stroke="#e8e8e8" stroke-width="0.7" />
<line x1="415.5" y1="328.1" x2="683.5" y2="328.1" stroke="#e8e8e8" stroke-width="0.7" />
<line x1="415.5" y1="312.6" x2="683.5" y2="312.6" stroke="#e8e8e8" stroke-width="0.7" />
<line x1="415.5" y1="297.1" x2="683.5" y2="297.1" stroke="#e8e8e8" stroke-width="0.7" />
<line x1="465.4" y1="290.3" x2="465.4" y2="459.5" stroke="#e8e8e8" stroke-width="0.7" />
<line x1="549.6" y1="290.3" x2="549.6" y2="459.5" stroke="#e8e8e8" stroke-width="0.7" />
<line x1="633.7" y1="290.3" x2="633.7" y2="459.5" stroke="#e8e8e8" stroke-width="0.7" />
<line x1="449.9" y1="350.58" x2="449.9" y2="410.25" stroke="#333" stroke-width="0.6" />
<line x1="449.9" y1="451.48" x2="449.9" y2="452.1" stroke="#333" stroke-width="0.6" />
<rect x="435.7" y="410.25" width="28.4" height="41.23" fill="#4aab7e" stroke="#333" stroke-width="0.6"/>
<line x1="435.7" y1="441.41" x2="464.1" y2="441.41" stroke="#333" stroke-width="1.2" />
<line x1="481.5" y1="317.25" x2="481.5" y2="385.45" stroke="#333" stroke-width="0.6" />
<line x1="481.5" y1="446.37" x2="481.5" y2="451.79" stroke="#333" stroke-width="0.6" />
<rect x="467.4" y="385.45" width="28.2" height="60.91" fill="#d9611e" stroke="#333" stroke-width="0.6"/>
<line x1="467.4" y1="419.55" x2="495.6" y2="419.55" stroke="#333" stroke-width="1.2" />
<line x1="534.1" y1="315.7" x2="534.1" y2="395.68" stroke="#333" stroke-width="0.6" />
<line x1="534.1" y1="449.31" x2="534.1" y2="452.1" stroke="#333" stroke-width="0.6" />
<rect x="519.9" y="395.68" width="28.4" height="53.63" fill="#4aab7e" stroke="#333" stroke-width="0.6"/>
<line x1="519.9" y1="434.59" x2="548.3" y2="434.59" stroke="#333" stroke-width="1.2" />
<line x1="565.7" y1="316.17" x2="565.7" y2="392.12" stroke="#333" stroke-width="0.6" />
<line x1="565.7" y1="443.42" x2="565.7" y2="451.79" stroke="#333" stroke-width="0.6" />
<rect x="551.6" y="392.12" width="28.2" height="51.31" fill="#d9611e" stroke="#333" stroke-width="0.6"/>
<line x1="551.6" y1="422.96" x2="579.8" y2="422.96" stroke="#333" stroke-width="1.2" />
<line x1="618.2" y1="432.26" x2="618.2" y2="443.73" stroke="#333" stroke-width="0.6" />
<line x1="618.2" y1="451.17" x2="618.2" y2="452.1" stroke="#333" stroke-width="0.6" />
<rect x="604" y="443.73" width="28.4" height="7.44" fill="#4aab7e" stroke="#333" stroke-width="0.6"/>
<line x1="604" y1="449.47" x2="632.4" y2="449.47" stroke="#333" stroke-width="1.2" />
<line x1="649.8" y1="433.35" x2="649.8" y2="444.2" stroke="#333" stroke-width="0.6" />
<line x1="649.8" y1="451.17" x2="649.8" y2="452.1" stroke="#333" stroke-width="0.6" />
<rect x="635.7" y="444.2" width="28.2" height="6.97" fill="#d9611e" stroke="#333" stroke-width="0.6"/>
<line x1="635.7" y1="449.47" x2="663.9" y2="449.47" stroke="#333" stroke-width="1.2" />
<text x="465.4" y="304.1" font-size="6.3" text-anchor="middle" fill="#000"><tspan font-style="italic">p</tspan> = 0.0038</text>
<text x="549.6" y="304.1" font-size="6.3" text-anchor="middle" fill="#000"><tspan font-style="italic">p</tspan> = 0.0905</text>
<text x="633.7" y="304.1" font-size="6.3" text-anchor="middle" fill="#000"><tspan font-style="italic">p</tspan> = 0.4219</text>
<rect x="415.5" y="290.3" width="268" height="169.2" fill="none" stroke="#a8a8a8" stroke-width="1"/>
<line x1="412.9" y1="452.1" x2="415.5" y2="452.1" stroke="#3a3a3a" stroke-width="0.7" />
<text x="412.4" y="454.1" font-size="5.5" text-anchor="end" fill="#4d4d4d" >0%</text>
<line x1="412.9" y1="436.6" x2="415.5" y2="436.6" stroke="#3a3a3a" stroke-width="0.7" />
<text x="412.4" y="438.6" font-size="5.5" text-anchor="end" fill="#4d4d4d" >10%</text>
<line x1="412.9" y1="421.1" x2="415.5" y2="421.1" stroke="#3a3a3a" stroke-width="0.7" />
<text x="412.4" y="423.1" font-size="5.5" text-anchor="end" fill="#4d4d4d" >20%</text>
<line x1="412.9" y1="405.6" x2="415.5" y2="405.6" stroke="#3a3a3a" stroke-width="0.7" />
<text x="412.4" y="407.6" font-size="5.5" text-anchor="end" fill="#4d4d4d" >30%</text>
<line x1="412.9" y1="390.1" x2="415.5" y2="390.1" stroke="#3a3a3a" stroke-width="0.7" />
<text x="412.4" y="392.1" font-size="5.5" text-anchor="end" fill="#4d4d4d" >40%</text>
<line x1="412.9" y1="374.6" x2="415.5" y2="374.6" stroke="#3a3a3a" stroke-width="0.7" />
<text x="412.4" y="376.6" font-size="5.5" text-anchor="end" fill="#4d4d4d" >50%</text>
<line x1="412.9" y1="359.1" x2="415.5" y2="359.1" stroke="#3a3a3a" stroke-width="0.7" />
<text x="412.4" y="361.1" font-size="5.5" text-anchor="end" fill="#4d4d4d" >60%</text>
<line x1="412.9" y1="343.6" x2="415.5" y2="343.6" stroke="#3a3a3a" stroke-width="0.7" />
<text x="412.4" y="345.6" font-size="5.5" text-anchor="end" fill="#4d4d4d" >70%</text>
<line x1="412.9" y1="328.1" x2="415.5" y2="328.1" stroke="#3a3a3a" stroke-width="0.7" />
<text x="412.4" y="330.1" font-size="5.5" text-anchor="end" fill="#4d4d4d" >80%</text>
<line x1="412.9" y1="312.6" x2="415.5" y2="312.6" stroke="#3a3a3a" stroke-width="0.7" />
<text x="412.4" y="314.6" font-size="5.5" text-anchor="end" fill="#4d4d4d" >90%</text>
<line x1="412.9" y1="297.1" x2="415.5" y2="297.1" stroke="#3a3a3a" stroke-width="0.7" />
<text x="412.4" y="299.1" font-size="5.5" text-anchor="end" fill="#4d4d4d" >100%</text>
<line x1="465.4" y1="459.5" x2="465.4" y2="461.7" stroke="#3a3a3a" stroke-width="0.7" />
<text transform="translate(465.9 462.9) rotate(-45)" x="0" y="4.0" font-size="5.6" text-anchor="end" fill="#4d4d4d">1 week</text>
<line x1="549.6" y1="459.5" x2="549.6" y2="461.7" stroke="#3a3a3a" stroke-width="0.7" />
<text transform="translate(550.1 462.9) rotate(-45)" x="0" y="4.0" font-size="5.6" text-anchor="end" fill="#4d4d4d">1 month</text>
<line x1="633.7" y1="459.5" x2="633.7" y2="461.7" stroke="#3a3a3a" stroke-width="0.7" />
<text transform="translate(634.2 462.9) rotate(-45)" x="0" y="4.0" font-size="5.6" text-anchor="end" fill="#4d4d4d">1 year</text>
<text transform="translate(395.2 375.5) rotate(-90)" font-size="6.9" text-anchor="middle" fill="#000"><tspan font-style="italic">Bifidobacterium</tspan> Mean Relative Abundance</text>
</svg>
</body></html>
